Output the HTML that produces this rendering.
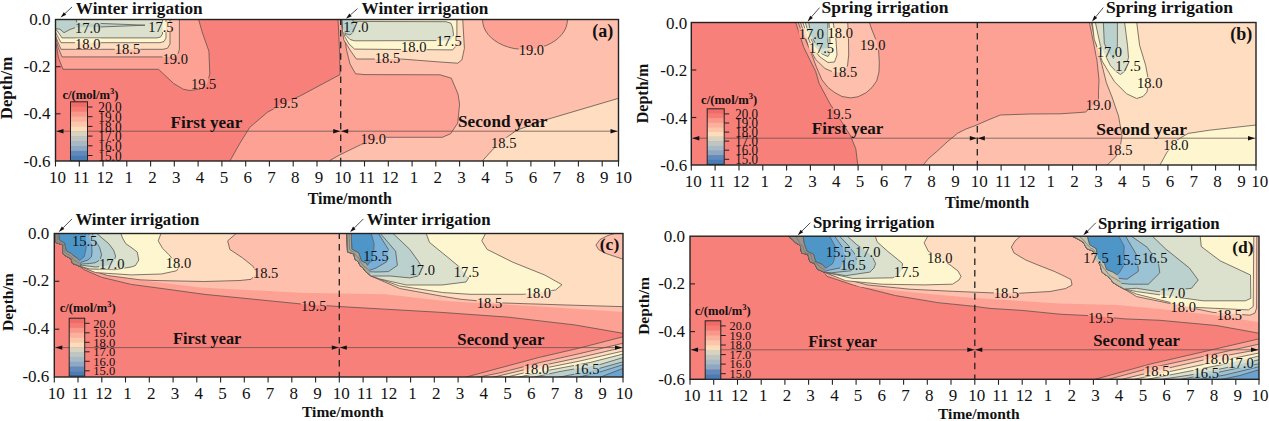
<!DOCTYPE html>
<html><head><meta charset="utf-8"><style>
html,body{margin:0;padding:0;background:#fff;overflow:hidden;}
svg{display:block;font-family:"Liberation Serif",serif;}
</style></head><body>
<svg width="1269" height="421" viewBox="0 0 1269 421" fill="#111">
<clipPath id="cpa"><rect x="55.5" y="19.5" width="563.0" height="141.5"/></clipPath>
<clipPath id="cpb"><rect x="691.3" y="22.5" width="564.7" height="142.5"/></clipPath>
<clipPath id="cpc"><rect x="54.3" y="233.5" width="568.7" height="143.5"/></clipPath>
<clipPath id="cpd"><rect x="690.0" y="236.2" width="569.0" height="143.1"/></clipPath>
<g clip-path="url(#cpa)">
<rect x="55.5" y="19.5" width="563.0" height="141.5" fill="#f8807a"/>
<mask id="mka" maskUnits="userSpaceOnUse" x="0" y="0" width="1269" height="421"><rect x="0" y="0" width="1269" height="421" fill="white"/><rect x="75.1" y="22.4" width="25.5" height="10.4" fill="black"/><rect x="148.2" y="21.7" width="25.5" height="10.4" fill="black"/><rect x="75.1" y="38.6" width="25.5" height="10.4" fill="black"/><rect x="114.8" y="43.9" width="25.5" height="10.4" fill="black"/><rect x="162.5" y="53.6" width="25.5" height="10.4" fill="black"/><rect x="190.9" y="78.3" width="25.5" height="10.4" fill="black"/><rect x="272.6" y="98.2" width="25.5" height="10.4" fill="black"/><rect x="343.2" y="22.1" width="25.5" height="10.4" fill="black"/><rect x="401.0" y="42.1" width="25.5" height="10.4" fill="black"/><rect x="436.3" y="36.2" width="25.5" height="10.4" fill="black"/><rect x="374.8" y="52.9" width="25.5" height="10.4" fill="black"/><rect x="518.7" y="45.1" width="25.5" height="10.4" fill="black"/><rect x="360.5" y="134.0" width="25.5" height="10.4" fill="black"/><rect x="491.1" y="137.7" width="25.5" height="10.4" fill="black"/></mask>
<polygon points="229.3,162.0 240.0,143.0 249.8,127.3 267.2,112.4 285.0,102.5 299.6,96.2 320.0,85.3 340.0,74.6 339.5,50.0 338.0,18.5 619.5,18.5 619.5,162.0" fill="#fca194"/>
<polygon points="229.3,162.0 240.0,143.0 249.8,127.3 267.2,112.4 285.0,102.5 299.6,96.2 320.0,85.3 340.0,74.6 339.5,50.0 338.0,18.5 619.5,18.5 619.5,162.0" fill="none" stroke="#574d4a" stroke-width="0.75" stroke-linejoin="round" mask="url(#mka)"/>
<polygon points="342.3,18.5 344.0,35.0 346.7,50.6 350.0,64.0 355.6,73.8 365.0,74.6 440.0,74.8 451.3,78.2 458.0,94.0 459.6,104.2 457.7,123.1 450.6,133.7 442.3,137.3 385.6,137.3 360.0,145.0 339.5,155.0 330.0,160.4 328.0,162.0 619.5,162.0 619.5,18.5 567.5,19.5 567.1,23.4 566.1,27.3 564.3,31.0 561.8,34.5 558.7,37.8 555.1,40.7 550.9,43.3 546.2,45.5 541.3,47.2 536.0,48.5 530.5,49.2 525.0,49.5 519.5,49.2 514.0,48.5 508.7,47.2 503.8,45.5 499.1,43.3 494.9,40.7 491.3,37.8 488.2,34.5 485.7,31.0 483.9,27.3 482.9,23.4 482.5,19.5 482.9,18.5" fill="#febfac"/>
<polygon points="342.3,18.5 344.0,35.0 346.7,50.6 350.0,64.0 355.6,73.8 365.0,74.6 440.0,74.8 451.3,78.2 458.0,94.0 459.6,104.2 457.7,123.1 450.6,133.7 442.3,137.3 385.6,137.3 360.0,145.0 339.5,155.0 330.0,160.4 328.0,162.0 619.5,162.0 619.5,18.5 567.5,19.5 567.1,23.4 566.1,27.3 564.3,31.0 561.8,34.5 558.7,37.8 555.1,40.7 550.9,43.3 546.2,45.5 541.3,47.2 536.0,48.5 530.5,49.2 525.0,49.5 519.5,49.2 514.0,48.5 508.7,47.2 503.8,45.5 499.1,43.3 494.9,40.7 491.3,37.8 488.2,34.5 485.7,31.0 483.9,27.3 482.9,23.4 482.5,19.5 482.9,18.5" fill="none" stroke="#574d4a" stroke-width="0.75" stroke-linejoin="round" mask="url(#mka)"/>
<polygon points="481.3,162.0 493.1,149.1 505.0,138.5 516.8,130.2 542.8,120.7 619.5,98.0 619.5,162.0" fill="#feddc0"/>
<polygon points="481.3,162.0 493.1,149.1 505.0,138.5 516.8,130.2 542.8,120.7 619.5,98.0 619.5,162.0" fill="none" stroke="#574d4a" stroke-width="0.75" stroke-linejoin="round" mask="url(#mka)"/>
<polygon points="341.0,18.5 342.0,28.0 343.8,39.9 350.0,50.0 356.3,59.0 401.2,59.0 440.0,62.0 457.7,63.2 461.9,59.9 464.4,48.3 462.7,18.5" fill="#feddc0"/>
<polygon points="341.0,18.5 342.0,28.0 343.8,39.9 350.0,50.0 356.3,59.0 401.2,59.0 440.0,62.0 457.7,63.2 461.9,59.9 464.4,48.3 462.7,18.5" fill="none" stroke="#574d4a" stroke-width="0.75" stroke-linejoin="round" mask="url(#mka)"/>
<polygon points="341.5,18.5 342.5,28.0 344.7,36.6 349.0,44.0 354.6,49.1 452.7,49.9 456.9,44.9 456.9,18.5" fill="#fef6cf"/>
<polygon points="341.5,18.5 342.5,28.0 344.7,36.6 349.0,44.0 354.6,49.1 452.7,49.9 456.9,44.9 456.9,18.5" fill="none" stroke="#574d4a" stroke-width="0.75" stroke-linejoin="round" mask="url(#mka)"/>
<polygon points="343.0,21.0 345.5,35.0 350.0,39.5 354.6,40.8 451.0,40.5 453.5,35.0 452.7,28.0 451.0,23.3 446.0,21.7 371.0,21.5" fill="#dce1ce"/>
<polygon points="343.0,21.0 345.5,35.0 350.0,39.5 354.6,40.8 451.0,40.5 453.5,35.0 452.7,28.0 451.0,23.3 446.0,21.7 371.0,21.5" fill="none" stroke="#574d4a" stroke-width="0.75" stroke-linejoin="round" mask="url(#mka)"/>
<polygon points="342.0,18.5 352.0,18.5 355.0,25.0 354.5,31.0 350.0,35.0 345.5,33.5 342.5,27.0" fill="#bad1cd"/>
<polygon points="342.0,18.5 352.0,18.5 355.0,25.0 354.5,31.0 350.0,35.0 345.5,33.5 342.5,27.0" fill="none" stroke="#574d4a" stroke-width="0.75" stroke-linejoin="round" mask="url(#mka)"/>
<polygon points="54.5,18.5 198.4,18.5 202.2,32.2 208.9,51.2 209.8,74.0 207.0,84.0 200.0,89.0 190.0,90.5 183.2,89.2 173.7,83.5 158.5,69.3 63.0,69.3 58.5,58.0 56.2,44.0 54.5,40.0" fill="#fca194"/>
<polygon points="54.5,18.5 198.4,18.5 202.2,32.2 208.9,51.2 209.8,74.0 207.0,84.0 200.0,89.0 190.0,90.5 183.2,89.2 173.7,83.5 158.5,69.3 63.0,69.3 58.5,58.0 56.2,44.0 54.5,40.0" fill="none" stroke="#574d4a" stroke-width="0.75" stroke-linejoin="round" mask="url(#mka)"/>
<polygon points="54.5,18.5 179.4,18.5 179.4,49.3 178.0,54.0 172.0,56.9 62.0,56.9 58.0,47.0 56.0,39.0 54.5,36.0" fill="#febfac"/>
<polygon points="54.5,18.5 179.4,18.5 179.4,49.3 178.0,54.0 172.0,56.9 62.0,56.9 58.0,47.0 56.0,39.0 54.5,36.0" fill="none" stroke="#574d4a" stroke-width="0.75" stroke-linejoin="round" mask="url(#mka)"/>
<polygon points="54.5,18.5 170.0,18.5 170.0,44.0 167.5,48.2 163.0,49.3 61.0,49.3 57.5,41.0 54.5,33.0" fill="#feddc0"/>
<polygon points="54.5,18.5 170.0,18.5 170.0,44.0 167.5,48.2 163.0,49.3 61.0,49.3 57.5,41.0 54.5,33.0" fill="none" stroke="#574d4a" stroke-width="0.75" stroke-linejoin="round" mask="url(#mka)"/>
<polygon points="54.5,18.5 166.0,18.5 166.0,38.0 164.0,41.5 160.0,42.7 61.0,42.7 57.5,36.0 54.5,30.0" fill="#fef6cf"/>
<polygon points="54.5,18.5 166.0,18.5 166.0,38.0 164.0,41.5 160.0,42.7 61.0,42.7 57.5,36.0 54.5,30.0" fill="none" stroke="#574d4a" stroke-width="0.75" stroke-linejoin="round" mask="url(#mka)"/>
<polygon points="54.5,18.5 162.5,18.5 162.5,34.0 160.5,37.0 157.0,37.9 62.0,37.9 58.0,32.0 54.5,28.0" fill="#dce1ce"/>
<polygon points="54.5,18.5 162.5,18.5 162.5,34.0 160.5,37.0 157.0,37.9 62.0,37.9 58.0,32.0 54.5,28.0" fill="none" stroke="#574d4a" stroke-width="0.75" stroke-linejoin="round" mask="url(#mka)"/>
<polygon points="54.5,18.5 76.0,18.5 77.0,23.4 100.0,23.4 145.0,25.2 100.0,27.0 76.0,27.3 70.0,29.5 64.0,32.7 60.0,29.2 54.5,28.5" fill="#bad1cd"/>
<polygon points="54.5,18.5 76.0,18.5 77.0,23.4 100.0,23.4 145.0,25.2 100.0,27.0 76.0,27.3 70.0,29.5 64.0,32.7 60.0,29.2 54.5,28.5" fill="none" stroke="#574d4a" stroke-width="0.75" stroke-linejoin="round" mask="url(#mka)"/>
<text x="87.8" y="32.5" font-size="14.5" font-weight="normal" text-anchor="middle">17.0</text>
<text x="160.9" y="31.8" font-size="14.5" font-weight="normal" text-anchor="middle">17.5</text>
<text x="87.8" y="48.7" font-size="14.5" font-weight="normal" text-anchor="middle">18.0</text>
<text x="127.5" y="54.0" font-size="14.5" font-weight="normal" text-anchor="middle">18.5</text>
<text x="175.2" y="63.8" font-size="14.5" font-weight="normal" text-anchor="middle">19.0</text>
<text x="203.6" y="88.5" font-size="14.5" font-weight="normal" text-anchor="middle">19.5</text>
<text x="285.3" y="108.3" font-size="14.5" font-weight="normal" text-anchor="middle">19.5</text>
<text x="355.9" y="32.3" font-size="14.5" font-weight="normal" text-anchor="middle">17.0</text>
<text x="413.7" y="52.2" font-size="14.5" font-weight="normal" text-anchor="middle">18.0</text>
<text x="449.0" y="46.4" font-size="14.5" font-weight="normal" text-anchor="middle">17.5</text>
<text x="387.5" y="63.0" font-size="14.5" font-weight="normal" text-anchor="middle">18.5</text>
<text x="531.4" y="55.3" font-size="14.5" font-weight="normal" text-anchor="middle">19.0</text>
<text x="373.2" y="144.2" font-size="14.5" font-weight="normal" text-anchor="middle">19.0</text>
<text x="503.8" y="147.8" font-size="14.5" font-weight="normal" text-anchor="middle">18.5</text>
</g>
<g clip-path="url(#cpb)">
<rect x="691.3" y="22.5" width="564.7" height="142.5" fill="#f8807a"/>
<mask id="mkb" maskUnits="userSpaceOnUse" x="0" y="0" width="1269" height="421"><rect x="0" y="0" width="1269" height="421" fill="white"/><rect x="798.7" y="28.4" width="25.5" height="10.4" fill="black"/><rect x="827.5" y="27.9" width="25.5" height="10.4" fill="black"/><rect x="808.7" y="42.9" width="25.5" height="10.4" fill="black"/><rect x="831.8" y="66.8" width="25.5" height="10.4" fill="black"/><rect x="860.0" y="39.4" width="25.5" height="10.4" fill="black"/><rect x="826.0" y="108.3" width="25.5" height="10.4" fill="black"/><rect x="1096.7" y="46.9" width="25.5" height="10.4" fill="black"/><rect x="1115.3" y="61.1" width="25.5" height="10.4" fill="black"/><rect x="1137.0" y="77.3" width="25.5" height="10.4" fill="black"/><rect x="1085.8" y="99.3" width="25.5" height="10.4" fill="black"/><rect x="1107.1" y="144.3" width="25.5" height="10.4" fill="black"/><rect x="1163.2" y="140.2" width="25.5" height="10.4" fill="black"/></mask>
<polygon points="795.4,21.5 803.8,47.5 815.6,71.3 819.2,83.5 829.6,103.1 841.4,121.4 850.5,135.8 855.8,148.8 857.9,166.0 1257.0,166.0 1257.0,21.5" fill="#fca194"/>
<polygon points="795.4,21.5 803.8,47.5 815.6,71.3 819.2,83.5 829.6,103.1 841.4,121.4 850.5,135.8 855.8,148.8 857.9,166.0 1257.0,166.0 1257.0,21.5" fill="none" stroke="#574d4a" stroke-width="0.75" stroke-linejoin="round" mask="url(#mkb)"/>
<polygon points="797.8,21.5 801.4,30.9 806.0,41.0 811.0,52.3 816.0,66.0 821.8,79.6 828.0,87.5 834.9,92.7 842.0,96.5 850.5,97.9 858.0,96.8 866.2,92.7 872.0,87.5 876.7,80.9 879.0,72.0 879.3,62.6 878.6,50.0 876.0,40.0 872.0,30.0 869.0,21.5" fill="#febfac"/>
<polygon points="797.8,21.5 801.4,30.9 806.0,41.0 811.0,52.3 816.0,66.0 821.8,79.6 828.0,87.5 834.9,92.7 842.0,96.5 850.5,97.9 858.0,96.8 866.2,92.7 872.0,87.5 876.7,80.9 879.0,72.0 879.3,62.6 878.6,50.0 876.0,40.0 872.0,30.0 869.0,21.5" fill="none" stroke="#574d4a" stroke-width="0.75" stroke-linejoin="round" mask="url(#mkb)"/>
<polygon points="922.4,166.0 929.0,158.0 936.8,151.5 947.0,142.0 957.7,133.2 966.0,129.0 976.0,125.3 988.0,120.0 1000.4,115.0 1030.0,114.0 1060.0,113.8 1080.0,112.5 1085.6,112.0 1098.5,100.0 1098.5,90.7 1099.0,80.0 1097.0,60.6 1093.0,40.0 1089.2,21.5 1257.0,21.5 1257.0,166.0" fill="#febfac"/>
<polygon points="922.4,166.0 929.0,158.0 936.8,151.5 947.0,142.0 957.7,133.2 966.0,129.0 976.0,125.3 988.0,120.0 1000.4,115.0 1030.0,114.0 1060.0,113.8 1080.0,112.5 1085.6,112.0 1098.5,100.0 1098.5,90.7 1099.0,80.0 1097.0,60.6 1093.0,40.0 1089.2,21.5 1257.0,21.5 1257.0,166.0" fill="none" stroke="#574d4a" stroke-width="0.75" stroke-linejoin="round" mask="url(#mkb)"/>
<polygon points="800.2,21.5 804.0,33.0 808.0,45.0 815.6,59.4 825.0,68.5 835.0,72.8 843.0,71.5 847.5,66.0 848.7,55.0 848.5,40.0 847.7,21.5" fill="#feddc0"/>
<polygon points="800.2,21.5 804.0,33.0 808.0,45.0 815.6,59.4 825.0,68.5 835.0,72.8 843.0,71.5 847.5,66.0 848.7,55.0 848.5,40.0 847.7,21.5" fill="none" stroke="#574d4a" stroke-width="0.75" stroke-linejoin="round" mask="url(#mkb)"/>
<polygon points="1091.2,21.5 1094.0,35.0 1099.3,54.3 1106.4,82.8 1112.0,97.0 1118.5,116.0 1122.0,135.6 1120.0,148.0 1115.6,157.0 1106.0,166.0 1257.0,166.0 1257.0,21.5" fill="#feddc0"/>
<polygon points="1091.2,21.5 1094.0,35.0 1099.3,54.3 1106.4,82.8 1112.0,97.0 1118.5,116.0 1122.0,135.6 1120.0,148.0 1115.6,157.0 1106.0,166.0 1257.0,166.0 1257.0,21.5" fill="none" stroke="#574d4a" stroke-width="0.75" stroke-linejoin="round" mask="url(#mkb)"/>
<polygon points="802.5,21.5 807.0,35.0 812.0,47.0 820.0,57.0 828.0,62.5 834.5,62.0 837.0,55.0 836.0,40.0 833.0,21.5" fill="#fef6cf"/>
<polygon points="802.5,21.5 807.0,35.0 812.0,47.0 820.0,57.0 828.0,62.5 834.5,62.0 837.0,55.0 836.0,40.0 833.0,21.5" fill="none" stroke="#574d4a" stroke-width="0.75" stroke-linejoin="round" mask="url(#mkb)"/>
<polygon points="1092.2,21.5 1094.2,39.2 1102.3,61.4 1114.4,81.6 1126.5,93.7 1136.6,98.5 1143.0,96.5 1147.0,92.0 1148.7,81.6 1145.7,65.5 1139.6,45.3 1136.6,21.5" fill="#fef6cf"/>
<polygon points="1092.2,21.5 1094.2,39.2 1102.3,61.4 1114.4,81.6 1126.5,93.7 1136.6,98.5 1143.0,96.5 1147.0,92.0 1148.7,81.6 1145.7,65.5 1139.6,45.3 1136.6,21.5" fill="none" stroke="#574d4a" stroke-width="0.75" stroke-linejoin="round" mask="url(#mkb)"/>
<polygon points="1159.4,166.0 1166.8,152.6 1177.0,140.0 1188.2,133.4 1209.6,130.2 1257.0,124.9 1257.0,166.0" fill="#fef6cf"/>
<polygon points="1159.4,166.0 1166.8,152.6 1177.0,140.0 1188.2,133.4 1209.6,130.2 1257.0,124.9 1257.0,166.0" fill="none" stroke="#574d4a" stroke-width="0.75" stroke-linejoin="round" mask="url(#mkb)"/>
<polygon points="805.0,21.5 809.0,35.0 815.0,47.0 822.0,54.0 828.0,56.5 830.5,52.0 829.0,21.5" fill="#dce1ce"/>
<polygon points="805.0,21.5 809.0,35.0 815.0,47.0 822.0,54.0 828.0,56.5 830.5,52.0 829.0,21.5" fill="none" stroke="#574d4a" stroke-width="0.75" stroke-linejoin="round" mask="url(#mkb)"/>
<polygon points="1095.2,21.5 1100.3,45.3 1110.4,65.5 1116.0,71.5 1120.5,74.5 1125.0,71.0 1128.5,57.4 1127.5,45.3 1124.5,21.5" fill="#dce1ce"/>
<polygon points="1095.2,21.5 1100.3,45.3 1110.4,65.5 1116.0,71.5 1120.5,74.5 1125.0,71.0 1128.5,57.4 1127.5,45.3 1124.5,21.5" fill="none" stroke="#574d4a" stroke-width="0.75" stroke-linejoin="round" mask="url(#mkb)"/>
<polygon points="808.5,21.5 811.0,35.0 816.0,45.0 822.0,48.7 827.8,48.0 827.8,21.5" fill="#bad1cd"/>
<polygon points="808.5,21.5 811.0,35.0 816.0,45.0 822.0,48.7 827.8,48.0 827.8,21.5" fill="none" stroke="#574d4a" stroke-width="0.75" stroke-linejoin="round" mask="url(#mkb)"/>
<polygon points="1103.3,21.5 1104.3,43.3 1108.0,52.0 1113.4,58.4 1117.0,52.0 1117.4,43.3 1117.4,21.5" fill="#bad1cd"/>
<polygon points="1103.3,21.5 1104.3,43.3 1108.0,52.0 1113.4,58.4 1117.0,52.0 1117.4,43.3 1117.4,21.5" fill="none" stroke="#574d4a" stroke-width="0.75" stroke-linejoin="round" mask="url(#mkb)"/>
<text x="811.4" y="38.5" font-size="14.5" font-weight="normal" text-anchor="middle">17.0</text>
<text x="840.2" y="38.0" font-size="14.5" font-weight="normal" text-anchor="middle">18.0</text>
<text x="821.4" y="53.0" font-size="14.5" font-weight="normal" text-anchor="middle">17.5</text>
<text x="844.5" y="77.0" font-size="14.5" font-weight="normal" text-anchor="middle">18.5</text>
<text x="872.7" y="49.5" font-size="14.5" font-weight="normal" text-anchor="middle">19.0</text>
<text x="838.7" y="118.5" font-size="14.5" font-weight="normal" text-anchor="middle">19.5</text>
<text x="1109.4" y="57.0" font-size="14.5" font-weight="normal" text-anchor="middle">17.0</text>
<text x="1128.0" y="71.3" font-size="14.5" font-weight="normal" text-anchor="middle">17.5</text>
<text x="1149.7" y="87.5" font-size="14.5" font-weight="normal" text-anchor="middle">18.0</text>
<text x="1098.5" y="109.5" font-size="14.5" font-weight="normal" text-anchor="middle">19.0</text>
<text x="1119.8" y="154.5" font-size="14.5" font-weight="normal" text-anchor="middle">18.5</text>
<text x="1175.9" y="150.3" font-size="14.5" font-weight="normal" text-anchor="middle">18.0</text>
</g>
<g clip-path="url(#cpc)">
<rect x="54.3" y="233.5" width="568.7" height="143.5" fill="#f8807a"/>
<mask id="mkc" maskUnits="userSpaceOnUse" x="0" y="0" width="1269" height="421"><rect x="0" y="0" width="1269" height="421" fill="white"/><rect x="71.9" y="235.3" width="25.5" height="10.4" fill="black"/><rect x="99.0" y="258.9" width="25.5" height="10.4" fill="black"/><rect x="165.8" y="258.2" width="25.5" height="10.4" fill="black"/><rect x="252.9" y="268.2" width="25.5" height="10.4" fill="black"/><rect x="301.0" y="300.9" width="25.5" height="10.4" fill="black"/><rect x="363.3" y="250.5" width="25.5" height="10.4" fill="black"/><rect x="409.6" y="264.9" width="25.5" height="10.4" fill="black"/><rect x="453.7" y="266.7" width="25.5" height="10.4" fill="black"/><rect x="525.7" y="288.2" width="25.5" height="10.4" fill="black"/><rect x="476.8" y="297.4" width="25.5" height="10.4" fill="black"/><rect x="523.7" y="364.2" width="25.5" height="10.4" fill="black"/><rect x="574.0" y="364.2" width="25.5" height="10.4" fill="black"/></mask>
<polygon points="55.8,232.5 55.8,242.4 62.5,244.8 62.9,253.8 66.3,256.2 71.0,258.6 72.4,263.3 79.6,266.2 83.8,269.6 101.6,277.3 131.2,284.4 166.9,289.2 204.0,294.3 268.3,300.7 300.4,303.9 339.0,306.5 385.5,309.2 440.0,312.3 507.7,317.1 575.4,325.0 624.0,333.5 624.0,232.5" fill="#fca194"/>
<polygon points="55.8,232.5 55.8,242.4 62.5,244.8 62.9,253.8 66.3,256.2 71.0,258.6 72.4,263.3 79.6,266.2 83.8,269.6 101.6,277.3 131.2,284.4 166.9,289.2 204.0,294.3 268.3,300.7 300.4,303.9 339.0,306.5 385.5,309.2 440.0,312.3 507.7,317.1 575.4,325.0 624.0,333.5 624.0,232.5" fill="none" stroke="#574d4a" stroke-width="0.75" stroke-linejoin="round" mask="url(#mkc)"/>
<polygon points="462.6,378.0 500.0,367.9 539.2,357.4 578.4,348.3 624.0,336.5 624.0,378.0" fill="#fca194"/>
<polygon points="462.6,378.0 500.0,367.9 539.2,357.4 578.4,348.3 624.0,336.5 624.0,378.0" fill="none" stroke="#574d4a" stroke-width="0.75" stroke-linejoin="round" mask="url(#mkc)"/>
<polygon points="55.8,232.5 55.8,242.4 62.5,244.8 62.9,253.8 66.3,256.2 71.0,258.6 72.4,263.3 79.6,266.2 85.0,268.0 101.0,273.5 131.0,279.0 160.0,282.5 200.0,287.6 247.0,290.0 300.0,292.8 385.5,294.2 440.0,300.5 460.0,302.0 540.0,306.5 624.0,312.0 624.0,232.5" fill="#febfac"/>
<polygon points="474.0,378.0 500.0,372.8 540.0,362.5 580.0,353.5 624.0,343.0 624.0,378.0" fill="#febfac"/>
<polygon points="474.0,378.0 500.0,372.8 540.0,362.5 580.0,353.5 624.0,343.0 624.0,378.0" fill="none" stroke="#574d4a" stroke-width="0.75" stroke-linejoin="round" mask="url(#mkc)"/>
<polygon points="490.0,378.0 540.0,366.0 580.0,357.5 624.0,347.2 624.0,378.0" fill="#feddc0"/>
<polygon points="490.0,378.0 540.0,366.0 580.0,357.5 624.0,347.2 624.0,378.0" fill="none" stroke="#574d4a" stroke-width="0.75" stroke-linejoin="round" mask="url(#mkc)"/>
<polygon points="503.0,378.0 540.0,369.0 580.0,361.0 624.0,350.8 624.0,378.0" fill="#fef6cf"/>
<polygon points="503.0,378.0 540.0,369.0 580.0,361.0 624.0,350.8 624.0,378.0" fill="none" stroke="#574d4a" stroke-width="0.75" stroke-linejoin="round" mask="url(#mkc)"/>
<polygon points="515.0,378.0 550.0,370.0 590.0,362.5 624.0,353.8 624.0,378.0" fill="#dce1ce"/>
<polygon points="515.0,378.0 550.0,370.0 590.0,362.5 624.0,353.8 624.0,378.0" fill="none" stroke="#574d4a" stroke-width="0.75" stroke-linejoin="round" mask="url(#mkc)"/>
<polygon points="530.0,378.0 560.0,371.5 600.0,364.5 624.0,357.3 624.0,378.0" fill="#bad1cd"/>
<polygon points="530.0,378.0 560.0,371.5 600.0,364.5 624.0,357.3 624.0,378.0" fill="none" stroke="#574d4a" stroke-width="0.75" stroke-linejoin="round" mask="url(#mkc)"/>
<polygon points="555.0,378.0 590.0,371.0 624.0,361.5 624.0,378.0" fill="#9cc3d3"/>
<polygon points="555.0,378.0 590.0,371.0 624.0,361.5 624.0,378.0" fill="none" stroke="#574d4a" stroke-width="0.75" stroke-linejoin="round" mask="url(#mkc)"/>
<polygon points="575.0,378.0 600.0,372.0 624.0,364.4 624.0,378.0" fill="#88b8d8"/>
<polygon points="575.0,378.0 600.0,372.0 624.0,364.4 624.0,378.0" fill="none" stroke="#574d4a" stroke-width="0.75" stroke-linejoin="round" mask="url(#mkc)"/>
<polygon points="598.0,378.0 624.0,368.0 624.0,378.0" fill="#6aa3d0"/>
<polygon points="598.0,378.0 624.0,368.0 624.0,378.0" fill="none" stroke="#574d4a" stroke-width="0.75" stroke-linejoin="round" mask="url(#mkc)"/>
<polygon points="55.8,232.5 55.8,242.4 62.5,244.8 62.9,253.8 66.3,256.2 71.0,258.6 72.4,263.3 79.6,266.2 107.5,275.5 140.0,279.8 155.0,280.5 204.2,281.5 240.0,280.5 251.2,279.3 256.0,274.0 253.3,266.5 242.7,258.0 229.8,249.4 227.7,240.8 237.3,232.5" fill="#feddc0"/>
<polygon points="55.8,232.5 55.8,242.4 62.5,244.8 62.9,253.8 66.3,256.2 71.0,258.6 72.4,263.3 79.6,266.2 107.5,275.5 140.0,279.8 155.0,280.5 204.2,281.5 240.0,280.5 251.2,279.3 256.0,274.0 253.3,266.5 242.7,258.0 229.8,249.4 227.7,240.8 237.3,232.5" fill="none" stroke="#574d4a" stroke-width="0.75" stroke-linejoin="round" mask="url(#mkc)"/>
<polygon points="55.8,232.5 55.8,242.4 62.5,244.8 62.9,253.8 66.3,256.2 71.0,258.6 72.4,263.3 79.6,266.2 95.6,272.6 131.2,274.9 161.4,274.0 176.4,270.8 178.7,268.0 175.0,262.0 168.9,254.7 162.5,248.3 158.2,240.8 161.4,232.5" fill="#fef6cf"/>
<polygon points="55.8,232.5 55.8,242.4 62.5,244.8 62.9,253.8 66.3,256.2 71.0,258.6 72.4,263.3 79.6,266.2 95.6,272.6 131.2,274.9 161.4,274.0 176.4,270.8 178.7,268.0 175.0,262.0 168.9,254.7 162.5,248.3 158.2,240.8 161.4,232.5" fill="none" stroke="#574d4a" stroke-width="0.75" stroke-linejoin="round" mask="url(#mkc)"/>
<polygon points="55.8,232.5 55.8,242.4 62.5,244.8 62.9,253.8 66.3,256.2 71.0,258.6 72.4,263.3 79.6,266.2 89.7,269.0 115.0,269.7 131.2,267.0 135.5,265.5 138.8,260.0 137.2,252.0 132.0,248.0 125.8,243.7 122.5,238.0 120.6,232.5" fill="#dce1ce"/>
<polygon points="55.8,232.5 55.8,242.4 62.5,244.8 62.9,253.8 66.3,256.2 71.0,258.6 72.4,263.3 79.6,266.2 89.7,269.0 115.0,269.7 131.2,267.0 135.5,265.5 138.8,260.0 137.2,252.0 132.0,248.0 125.8,243.7 122.5,238.0 120.6,232.5" fill="none" stroke="#574d4a" stroke-width="0.75" stroke-linejoin="round" mask="url(#mkc)"/>
<polygon points="55.8,232.5 55.8,242.4 62.5,244.8 62.9,253.8 66.3,256.2 71.0,258.6 72.4,263.3 79.6,266.2 84.0,265.5 95.7,267.0 108.0,265.5 114.0,262.0 115.6,256.0 113.5,250.0 108.8,243.7 102.0,238.0 95.8,232.5" fill="#bad1cd"/>
<polygon points="55.8,232.5 55.8,242.4 62.5,244.8 62.9,253.8 66.3,256.2 71.0,258.6 72.4,263.3 79.6,266.2 84.0,265.5 95.7,267.0 108.0,265.5 114.0,262.0 115.6,256.0 113.5,250.0 108.8,243.7 102.0,238.0 95.8,232.5" fill="none" stroke="#574d4a" stroke-width="0.75" stroke-linejoin="round" mask="url(#mkc)"/>
<polygon points="55.8,232.5 55.8,242.4 62.5,244.8 62.9,253.8 66.3,256.2 71.0,258.6 72.4,263.3 79.6,266.2 82.0,264.0 89.2,263.5 95.0,262.8 100.0,260.0 101.6,254.8 99.7,247.6 95.0,240.0 92.0,232.5" fill="#9cc3d3"/>
<polygon points="55.8,232.5 55.8,242.4 62.5,244.8 62.9,253.8 66.3,256.2 71.0,258.6 72.4,263.3 79.6,266.2 82.0,264.0 89.2,263.5 95.0,262.8 100.0,260.0 101.6,254.8 99.7,247.6 95.0,240.0 92.0,232.5" fill="none" stroke="#574d4a" stroke-width="0.75" stroke-linejoin="round" mask="url(#mkc)"/>
<polygon points="55.8,232.5 55.8,242.4 62.5,244.8 62.9,253.8 66.3,256.2 71.0,258.6 72.4,263.3 79.6,266.2 81.0,262.5 84.0,261.3 88.0,260.0 91.5,256.8 92.0,252.0 91.8,246.3 90.0,240.0 88.5,232.5" fill="#78afd8"/>
<polygon points="55.8,232.5 55.8,242.4 62.5,244.8 62.9,253.8 66.3,256.2 71.0,258.6 72.4,263.3 79.6,266.2 81.0,262.5 84.0,261.3 88.0,260.0 91.5,256.8 92.0,252.0 91.8,246.3 90.0,240.0 88.5,232.5" fill="none" stroke="#574d4a" stroke-width="0.75" stroke-linejoin="round" mask="url(#mkc)"/>
<polygon points="58.7,232.5 59.1,240.0 64.4,242.9 66.3,251.0 71.0,253.3 72.9,255.2 77.7,258.6 79.6,260.5 84.3,256.7 86.2,248.1 86.0,240.0 85.5,232.5" fill="#4e96c8"/>
<polygon points="58.7,232.5 59.1,240.0 64.4,242.9 66.3,251.0 71.0,253.3 72.9,255.2 77.7,258.6 79.6,260.5 84.3,256.7 86.2,248.1 86.0,240.0 85.5,232.5" fill="none" stroke="#574d4a" stroke-width="0.6" stroke-linejoin="round" mask="url(#mkc)"/>
<polygon points="55.8,232.5 55.8,242.4 62.5,244.8 62.9,253.8 66.3,256.2 71.0,258.6 72.4,263.3 79.6,266.2 79.6,260.5 77.7,258.6 72.9,255.2 71.0,253.3 66.3,251.0 64.4,242.9 59.1,240.0 58.7,232.5" fill="#9d9a92" stroke="none"/>
<polyline points="55.8,232.5 55.8,242.4 62.5,244.8 62.9,253.8 66.3,256.2 71.0,258.6 72.4,263.3 79.6,266.2" fill="none" stroke="#6b625c" stroke-width="0.9" stroke-linejoin="miter" mask="url(#mkc)"/>
<polyline points="58.7,232.5 59.1,240.0 64.4,242.9 66.3,251.0 71.0,253.3 72.9,255.2 77.7,258.6 79.6,260.5" fill="none" stroke="#5d5f60" stroke-width="0.9" stroke-linejoin="miter" mask="url(#mkc)"/>
<polyline points="57.2,232.5 57.3,233.6 57.3,234.7 57.3,235.8 57.4,236.9 57.4,238.0 57.4,239.1 57.4,240.3 57.6,241.3 58.6,241.7 59.6,242.2 60.6,242.6 61.6,243.1 62.7,243.5 63.5,244.1 63.6,245.2 63.8,246.3 63.9,247.4 64.0,248.5 64.2,249.6 64.3,250.7 64.5,251.8 65.0,252.6 65.9,253.2 66.8,253.8 67.8,254.3 68.8,254.8 69.8,255.3 70.7,255.9 71.5,256.6 72.1,257.5 72.6,258.4 73.2,259.3 73.9,260.1 74.9,260.6 75.9,261.1 76.8,261.6 77.8,262.2 78.7,262.8 79.6,263.4" fill="none" stroke="#777068" stroke-width="0.8" mask="url(#mkc)"/>
<polygon points="347.0,232.5 347.5,251.9 353.9,254.0 355.0,259.3 358.7,262.0 359.8,265.2 363.0,267.9 365.7,271.6 371.0,276.0 399.7,288.5 442.5,296.3 460.0,299.2 501.0,302.9 566.3,305.0 624.0,306.7 624.0,232.5" fill="#feddc0"/>
<polygon points="347.0,232.5 347.5,251.9 353.9,254.0 355.0,259.3 358.7,262.0 359.8,265.2 363.0,267.9 365.7,271.6 371.0,276.0 399.7,288.5 442.5,296.3 460.0,299.2 501.0,302.9 566.3,305.0 624.0,306.7 624.0,232.5" fill="none" stroke="#574d4a" stroke-width="0.75" stroke-linejoin="round" mask="url(#mkc)"/>
<polygon points="618.0,232.5 608.0,235.5 600.0,239.5 596.0,245.0 598.5,249.5 606.0,253.5 615.0,256.5 624.0,259.5 624.0,232.5" fill="#febfac"/>
<polygon points="618.0,232.5 608.0,235.5 600.0,239.5 596.0,245.0 598.5,249.5 606.0,253.5 615.0,256.5 624.0,259.5 624.0,232.5" fill="none" stroke="#574d4a" stroke-width="0.75" stroke-linejoin="round" mask="url(#mkc)"/>
<polygon points="347.0,232.5 347.5,251.9 353.9,254.0 355.0,259.3 358.7,262.0 359.8,265.2 363.0,267.9 365.7,271.6 371.0,276.0 399.7,286.0 442.5,292.5 470.0,294.3 523.5,294.3 555.6,290.0 562.0,284.7 544.9,275.1 512.8,262.2 487.1,249.4 481.8,240.8 486.0,232.5" fill="#fef6cf"/>
<polygon points="347.0,232.5 347.5,251.9 353.9,254.0 355.0,259.3 358.7,262.0 359.8,265.2 363.0,267.9 365.7,271.6 371.0,276.0 399.7,286.0 442.5,292.5 470.0,294.3 523.5,294.3 555.6,290.0 562.0,284.7 544.9,275.1 512.8,262.2 487.1,249.4 481.8,240.8 486.0,232.5" fill="none" stroke="#574d4a" stroke-width="0.75" stroke-linejoin="round" mask="url(#mkc)"/>
<polygon points="347.0,232.5 347.5,251.9 353.9,254.0 355.0,259.3 358.7,262.0 359.8,265.2 363.0,267.9 365.7,271.6 371.0,276.0 380.0,279.0 406.3,285.0 441.9,285.0 466.0,282.0 468.6,278.0 459.7,267.2 449.0,258.3 429.4,242.3 425.9,232.5" fill="#dce1ce"/>
<polygon points="347.0,232.5 347.5,251.9 353.9,254.0 355.0,259.3 358.7,262.0 359.8,265.2 363.0,267.9 365.7,271.6 371.0,276.0 380.0,279.0 406.3,285.0 441.9,285.0 466.0,282.0 468.6,278.0 459.7,267.2 449.0,258.3 429.4,242.3 425.9,232.5" fill="none" stroke="#574d4a" stroke-width="0.75" stroke-linejoin="round" mask="url(#mkc)"/>
<polygon points="347.0,232.5 347.5,251.9 353.9,254.0 355.0,259.3 358.7,262.0 359.8,265.2 363.0,267.9 365.7,271.6 371.0,276.0 390.0,276.0 409.8,277.9 418.0,276.0 422.0,268.0 418.7,261.8 409.8,249.4 392.0,232.5" fill="#bad1cd"/>
<polygon points="347.0,232.5 347.5,251.9 353.9,254.0 355.0,259.3 358.7,262.0 359.8,265.2 363.0,267.9 365.7,271.6 371.0,276.0 390.0,276.0 409.8,277.9 418.0,276.0 422.0,268.0 418.7,261.8 409.8,249.4 392.0,232.5" fill="none" stroke="#574d4a" stroke-width="0.75" stroke-linejoin="round" mask="url(#mkc)"/>
<polygon points="347.0,232.5 347.5,251.9 353.9,254.0 355.0,259.3 358.7,262.0 359.8,265.2 363.0,267.9 365.7,271.6 376.0,272.0 388.4,271.6 397.4,265.4 395.6,251.2 379.5,232.5" fill="#9cc3d3"/>
<polygon points="347.0,232.5 347.5,251.9 353.9,254.0 355.0,259.3 358.7,262.0 359.8,265.2 363.0,267.9 365.7,271.6 376.0,272.0 388.4,271.6 397.4,265.4 395.6,251.2 379.5,232.5" fill="none" stroke="#574d4a" stroke-width="0.75" stroke-linejoin="round" mask="url(#mkc)"/>
<polygon points="347.0,232.5 347.5,251.9 353.9,254.0 355.0,259.3 358.7,262.0 359.8,265.2 363.0,267.9 365.7,271.6 376.0,268.1 386.7,261.8 388.4,249.4 377.8,232.5" fill="#78afd8"/>
<polygon points="347.0,232.5 347.5,251.9 353.9,254.0 355.0,259.3 358.7,262.0 359.8,265.2 363.0,267.9 365.7,271.6 376.0,268.1 386.7,261.8 388.4,249.4 377.8,232.5" fill="none" stroke="#574d4a" stroke-width="0.75" stroke-linejoin="round" mask="url(#mkc)"/>
<polygon points="351.2,232.5 351.8,249.2 358.7,252.9 361.4,260.9 365.7,263.1 367.8,265.2 368.9,263.1 373.2,259.9 374.2,243.8 371.0,232.5" fill="#4e96c8"/>
<polygon points="351.2,232.5 351.8,249.2 358.7,252.9 361.4,260.9 365.7,263.1 367.8,265.2 368.9,263.1 373.2,259.9 374.2,243.8 371.0,232.5" fill="none" stroke="#574d4a" stroke-width="0.6" stroke-linejoin="round" mask="url(#mkc)"/>
<polygon points="347.0,232.5 347.5,251.9 353.9,254.0 355.0,259.3 358.7,262.0 359.8,265.2 363.0,267.9 365.7,271.6 371.0,276.0 367.8,265.2 365.7,263.1 361.4,260.9 358.7,252.9 351.8,249.2 351.2,232.5" fill="#a4a79c" stroke="none"/>
<polyline points="347.0,232.5 347.5,251.9 353.9,254.0 355.0,259.3 358.7,262.0 359.8,265.2 363.0,267.9 365.7,271.6 371.0,276.0" fill="none" stroke="#6b625c" stroke-width="0.9" stroke-linejoin="miter" mask="url(#mkc)"/>
<polyline points="351.2,232.5 351.8,249.2 358.7,252.9 361.4,260.9 365.7,263.1 367.8,265.2" fill="none" stroke="#5d5f60" stroke-width="0.9" stroke-linejoin="miter" mask="url(#mkc)"/>
<polyline points="349.1,232.5 349.1,233.7 349.2,235.0 349.2,236.2 349.2,237.4 349.3,238.6 349.3,239.9 349.4,241.1 349.4,242.3 349.4,243.6 349.5,244.8 349.5,246.0 349.5,247.3 349.6,248.5 349.8,249.6 350.5,250.3 351.2,251.1 352.3,251.5 353.5,252.0 354.3,252.7 354.9,253.6 355.5,254.6 356.1,255.5 357.0,256.3 357.9,257.1 358.6,258.0 359.2,259.0 359.6,260.2 360.0,261.3 360.8,262.3 361.5,263.2 362.2,264.2 362.9,265.1 363.8,266.0 364.6,266.8 365.6,267.5 366.6,268.2 367.6,269.0 368.5,269.8 369.4,270.6" fill="none" stroke="#777068" stroke-width="0.8" mask="url(#mkc)"/>
<text x="84.6" y="245.5" font-size="14.5" font-weight="normal" text-anchor="middle">15.5</text>
<text x="111.7" y="269.0" font-size="14.5" font-weight="normal" text-anchor="middle">17.0</text>
<text x="178.5" y="268.3" font-size="14.5" font-weight="normal" text-anchor="middle">18.0</text>
<text x="265.6" y="278.3" font-size="14.5" font-weight="normal" text-anchor="middle">18.5</text>
<text x="313.7" y="311.0" font-size="14.5" font-weight="normal" text-anchor="middle">19.5</text>
<text x="376.0" y="260.7" font-size="14.5" font-weight="normal" text-anchor="middle">15.5</text>
<text x="422.3" y="275.0" font-size="14.5" font-weight="normal" text-anchor="middle">17.0</text>
<text x="466.4" y="276.8" font-size="14.5" font-weight="normal" text-anchor="middle">17.5</text>
<text x="538.4" y="298.3" font-size="14.5" font-weight="normal" text-anchor="middle">18.0</text>
<text x="489.5" y="307.5" font-size="14.5" font-weight="normal" text-anchor="middle">18.5</text>
<text x="536.4" y="374.3" font-size="14.5" font-weight="normal" text-anchor="middle">18.0</text>
<text x="586.7" y="374.4" font-size="14.5" font-weight="normal" text-anchor="middle">16.5</text>
</g>
<g clip-path="url(#cpd)">
<rect x="690.0" y="236.2" width="569.0" height="143.1" fill="#f8807a"/>
<mask id="mkd" maskUnits="userSpaceOnUse" x="0" y="0" width="1269" height="421"><rect x="0" y="0" width="1269" height="421" fill="white"/><rect x="825.7" y="247.2" width="25.5" height="10.4" fill="black"/><rect x="855.0" y="247.2" width="25.5" height="10.4" fill="black"/><rect x="840.3" y="259.9" width="25.5" height="10.4" fill="black"/><rect x="893.8" y="266.5" width="25.5" height="10.4" fill="black"/><rect x="927.0" y="252.8" width="25.5" height="10.4" fill="black"/><rect x="993.7" y="287.9" width="25.5" height="10.4" fill="black"/><rect x="1088.0" y="312.6" width="25.5" height="10.4" fill="black"/><rect x="1083.3" y="252.8" width="25.5" height="10.4" fill="black"/><rect x="1115.8" y="255.2" width="25.5" height="10.4" fill="black"/><rect x="1142.0" y="253.2" width="25.5" height="10.4" fill="black"/><rect x="1159.9" y="287.4" width="25.5" height="10.4" fill="black"/><rect x="1170.5" y="301.5" width="25.5" height="10.4" fill="black"/><rect x="1216.7" y="309.9" width="25.5" height="10.4" fill="black"/><rect x="1144.1" y="365.9" width="25.5" height="10.4" fill="black"/><rect x="1193.5" y="367.9" width="25.5" height="10.4" fill="black"/><rect x="1203.6" y="354.2" width="25.5" height="10.4" fill="black"/><rect x="1228.3" y="357.9" width="25.5" height="10.4" fill="black"/></mask>
<polygon points="787.0,235.2 791.7,238.8 795.5,242.6 800.3,245.4 801.7,253.0 807.9,254.4 809.8,261.6 814.5,263.5 817.4,269.2 824.0,272.0 827.1,276.4 852.8,284.9 895.5,295.6 938.3,302.7 973.9,306.3 990.0,308.4 1022.0,310.4 1060.0,314.2 1088.5,315.6 1125.0,318.9 1160.0,320.3 1217.0,325.6 1260.0,333.4 1260.0,235.2" fill="#fca194"/>
<polygon points="787.0,235.2 791.7,238.8 795.5,242.6 800.3,245.4 801.7,253.0 807.9,254.4 809.8,261.6 814.5,263.5 817.4,269.2 824.0,272.0 827.1,276.4 852.8,284.9 895.5,295.6 938.3,302.7 973.9,306.3 990.0,308.4 1022.0,310.4 1060.0,314.2 1088.5,315.6 1125.0,318.9 1160.0,320.3 1217.0,325.6 1260.0,333.4 1260.0,235.2" fill="none" stroke="#574d4a" stroke-width="0.75" stroke-linejoin="round" mask="url(#mkd)"/>
<polygon points="1091.5,380.3 1150.0,364.1 1209.4,350.4 1260.0,338.6 1260.0,380.3" fill="#fca194"/>
<polygon points="1091.5,380.3 1150.0,364.1 1209.4,350.4 1260.0,338.6 1260.0,380.3" fill="none" stroke="#574d4a" stroke-width="0.75" stroke-linejoin="round" mask="url(#mkd)"/>
<polygon points="787.0,235.2 791.7,238.8 795.5,242.6 800.3,245.4 801.7,253.0 807.9,254.4 809.8,261.6 814.5,263.5 817.4,269.2 824.0,272.0 826.0,274.0 860.0,286.7 924.0,293.5 974.0,298.0 990.0,299.0 1060.0,303.5 1117.0,305.0 1160.0,309.0 1217.0,315.5 1260.0,322.5 1260.0,235.2" fill="#febfac"/>
<polygon points="1105.0,380.3 1150.0,368.0 1210.0,355.0 1260.0,343.9 1260.0,380.3" fill="#febfac"/>
<polygon points="1105.0,380.3 1150.0,368.0 1210.0,355.0 1260.0,343.9 1260.0,380.3" fill="none" stroke="#574d4a" stroke-width="0.75" stroke-linejoin="round" mask="url(#mkd)"/>
<polygon points="787.0,235.2 791.7,238.8 795.5,242.6 800.3,245.4 801.7,253.0 807.9,254.4 809.8,261.6 814.5,263.5 817.4,269.2 824.0,272.0 831.4,275.0 867.0,284.9 909.8,289.2 952.5,291.3 990.0,292.8 1018.2,293.3 1050.0,291.5 1065.7,288.5 1072.0,285.0 1071.0,279.5 1062.0,275.0 1054.3,271.4 1038.0,265.0 1025.8,260.0 1014.0,253.0 1011.4,247.0 1015.0,241.0 1021.5,235.2" fill="#feddc0"/>
<polygon points="787.0,235.2 791.7,238.8 795.5,242.6 800.3,245.4 801.7,253.0 807.9,254.4 809.8,261.6 814.5,263.5 817.4,269.2 824.0,272.0 831.4,275.0 867.0,284.9 909.8,289.2 952.5,291.3 990.0,292.8 1018.2,293.3 1050.0,291.5 1065.7,288.5 1072.0,285.0 1071.0,279.5 1062.0,275.0 1054.3,271.4 1038.0,265.0 1025.8,260.0 1014.0,253.0 1011.4,247.0 1015.0,241.0 1021.5,235.2" fill="none" stroke="#574d4a" stroke-width="0.75" stroke-linejoin="round" mask="url(#mkd)"/>
<polygon points="1118.0,380.3 1160.0,370.0 1210.0,358.5 1260.0,349.3 1260.0,380.3" fill="#feddc0"/>
<polygon points="1118.0,380.3 1160.0,370.0 1210.0,358.5 1260.0,349.3 1260.0,380.3" fill="none" stroke="#574d4a" stroke-width="0.75" stroke-linejoin="round" mask="url(#mkd)"/>
<polygon points="787.0,235.2 791.7,238.8 795.5,242.6 800.3,245.4 801.7,253.0 807.9,254.4 809.8,261.6 814.5,263.5 817.4,269.2 824.0,272.0 845.6,280.7 881.3,284.2 924.0,284.9 952.5,284.2 959.0,280.0 961.0,276.4 958.0,271.0 951.1,265.7 940.0,258.0 928.4,251.4 924.1,242.8 928.4,235.2" fill="#fef6cf"/>
<polygon points="787.0,235.2 791.7,238.8 795.5,242.6 800.3,245.4 801.7,253.0 807.9,254.4 809.8,261.6 814.5,263.5 817.4,269.2 824.0,272.0 845.6,280.7 881.3,284.2 924.0,284.9 952.5,284.2 959.0,280.0 961.0,276.4 958.0,271.0 951.1,265.7 940.0,258.0 928.4,251.4 924.1,242.8 928.4,235.2" fill="none" stroke="#574d4a" stroke-width="0.75" stroke-linejoin="round" mask="url(#mkd)"/>
<polygon points="787.0,235.2 791.7,238.8 795.5,242.6 800.3,245.4 801.7,253.0 807.9,254.4 809.8,261.6 814.5,263.5 817.4,269.2 824.0,272.0 852.8,278.5 892.7,277.8 899.0,274.0 901.7,270.0 902.6,263.6 896.0,258.0 887.8,251.4 877.1,241.8 875.0,235.2" fill="#dce1ce"/>
<polygon points="787.0,235.2 791.7,238.8 795.5,242.6 800.3,245.4 801.7,253.0 807.9,254.4 809.8,261.6 814.5,263.5 817.4,269.2 824.0,272.0 852.8,278.5 892.7,277.8 899.0,274.0 901.7,270.0 902.6,263.6 896.0,258.0 887.8,251.4 877.1,241.8 875.0,235.2" fill="none" stroke="#574d4a" stroke-width="0.75" stroke-linejoin="round" mask="url(#mkd)"/>
<polygon points="787.0,235.2 791.7,238.8 795.5,242.6 800.3,245.4 801.7,253.0 807.9,254.4 809.8,261.6 814.5,263.5 817.4,269.2 824.0,272.0 845.6,275.7 869.9,272.1 874.0,268.0 875.6,263.6 871.9,255.7 856.3,244.3 846.3,235.2" fill="#bad1cd"/>
<polygon points="787.0,235.2 791.7,238.8 795.5,242.6 800.3,245.4 801.7,253.0 807.9,254.4 809.8,261.6 814.5,263.5 817.4,269.2 824.0,272.0 845.6,275.7 869.9,272.1 874.0,268.0 875.6,263.6 871.9,255.7 856.3,244.3 846.3,235.2" fill="none" stroke="#574d4a" stroke-width="0.75" stroke-linejoin="round" mask="url(#mkd)"/>
<polygon points="787.0,235.2 791.7,238.8 795.5,242.6 800.3,245.4 801.7,253.0 807.9,254.4 809.8,261.6 814.5,263.5 817.4,269.2 824.0,272.0 831.4,272.8 851.3,270.7 857.0,263.6 855.6,255.0 848.0,245.0 838.5,235.2" fill="#9cc3d3"/>
<polygon points="787.0,235.2 791.7,238.8 795.5,242.6 800.3,245.4 801.7,253.0 807.9,254.4 809.8,261.6 814.5,263.5 817.4,269.2 824.0,272.0 831.4,272.8 851.3,270.7 857.0,263.6 855.6,255.0 848.0,245.0 838.5,235.2" fill="none" stroke="#574d4a" stroke-width="0.75" stroke-linejoin="round" mask="url(#mkd)"/>
<polygon points="787.0,235.2 791.7,238.8 795.5,242.6 800.3,245.4 801.7,253.0 807.9,254.4 809.8,261.6 814.5,263.5 817.4,269.2 824.0,272.0 827.0,270.5 840.0,268.0 845.0,260.0 843.0,248.0 834.0,235.2" fill="#78afd8"/>
<polygon points="787.0,235.2 791.7,238.8 795.5,242.6 800.3,245.4 801.7,253.0 807.9,254.4 809.8,261.6 814.5,263.5 817.4,269.2 824.0,272.0 827.0,270.5 840.0,268.0 845.0,260.0 843.0,248.0 834.0,235.2" fill="none" stroke="#574d4a" stroke-width="0.75" stroke-linejoin="round" mask="url(#mkd)"/>
<polygon points="803.1,235.2 804.0,243.0 806.9,251.1 813.6,254.4 815.5,261.6 822.1,264.4 825.9,268.2 832.8,263.6 835.7,255.0 836.3,248.5 829.2,235.2" fill="#4e96c8"/>
<polygon points="803.1,235.2 804.0,243.0 806.9,251.1 813.6,254.4 815.5,261.6 822.1,264.4 825.9,268.2 832.8,263.6 835.7,255.0 836.3,248.5 829.2,235.2" fill="none" stroke="#574d4a" stroke-width="0.6" stroke-linejoin="round" mask="url(#mkd)"/>
<polygon points="787.0,235.2 791.7,238.8 795.5,242.6 800.3,245.4 801.7,253.0 807.9,254.4 809.8,261.6 814.5,263.5 817.4,269.2 824.0,272.0 825.9,268.2 822.1,264.4 815.5,261.6 813.6,254.4 806.9,251.1 804.0,243.0 803.1,235.2" fill="#9c948c" stroke="none"/>
<polyline points="787.0,235.2 791.7,238.8 795.5,242.6 800.3,245.4 801.7,253.0 807.9,254.4 809.8,261.6 814.5,263.5 817.4,269.2 824.0,272.0" fill="none" stroke="#6b625c" stroke-width="0.9" stroke-linejoin="miter" mask="url(#mkd)"/>
<polyline points="803.1,235.2 804.0,243.0 806.9,251.1 813.6,254.4 815.5,261.6 822.1,264.4 825.9,268.2" fill="none" stroke="#5d5f60" stroke-width="0.9" stroke-linejoin="miter" mask="url(#mkd)"/>
<polyline points="795.0,235.2 795.7,236.2 796.3,237.2 797.0,238.2 797.6,239.2 798.2,240.3 798.8,241.4 799.4,242.4 800.1,243.4 800.9,244.3 801.8,245.2 802.6,246.1 803.2,247.2 803.5,248.5 803.8,249.7 804.3,250.8 804.9,251.8 805.6,252.7 806.9,253.1 808.1,253.5 809.3,253.9 810.5,254.3 811.0,255.4 811.3,256.7 811.7,257.9 812.0,259.2 812.3,260.4 813.0,261.3 813.9,262.1 815.1,262.6 816.2,263.2 817.1,264.1 817.9,264.9 818.8,265.8 819.6,266.7 820.7,267.4 821.7,268.0 822.8,268.7 823.9,269.4 825.0,270.1" fill="none" stroke="#777068" stroke-width="0.8" mask="url(#mkd)"/>
<polygon points="1070.0,235.2 1076.5,238.2 1083.1,242.1 1087.0,248.7 1093.5,251.3 1094.8,259.1 1100.0,264.4 1102.0,272.2 1109.2,277.4 1113.1,282.6 1119.6,286.6 1124.2,289.0 1136.6,296.6 1213.1,312.4 1250.0,315.2 1255.0,313.0 1256.6,308.0 1256.8,235.2" fill="#feddc0"/>
<polygon points="1070.0,235.2 1076.5,238.2 1083.1,242.1 1087.0,248.7 1093.5,251.3 1094.8,259.1 1100.0,264.4 1102.0,272.2 1109.2,277.4 1113.1,282.6 1119.6,286.6 1124.2,289.0 1136.6,296.6 1213.1,312.4 1250.0,315.2 1255.0,313.0 1256.6,308.0 1256.8,235.2" fill="none" stroke="#574d4a" stroke-width="0.75" stroke-linejoin="round" mask="url(#mkd)"/>
<polygon points="1070.0,235.2 1076.5,238.2 1083.1,242.1 1087.0,248.7 1093.5,251.3 1094.8,259.1 1100.0,264.4 1102.0,272.2 1109.2,277.4 1113.1,282.6 1119.6,286.6 1124.2,289.0 1136.6,294.1 1169.9,302.4 1194.8,307.4 1248.5,309.9 1253.2,306.5 1253.8,235.2" fill="#fef6cf"/>
<polygon points="1070.0,235.2 1076.5,238.2 1083.1,242.1 1087.0,248.7 1093.5,251.3 1094.8,259.1 1100.0,264.4 1102.0,272.2 1109.2,277.4 1113.1,282.6 1119.6,286.6 1124.2,289.0 1136.6,294.1 1169.9,302.4 1194.8,307.4 1248.5,309.9 1253.2,306.5 1253.8,235.2" fill="none" stroke="#574d4a" stroke-width="0.75" stroke-linejoin="round" mask="url(#mkd)"/>
<polygon points="1070.0,235.2 1076.5,238.2 1083.1,242.1 1087.0,248.7 1093.5,251.3 1094.8,259.1 1100.0,264.4 1102.0,272.2 1109.2,277.4 1113.1,282.6 1119.6,286.6 1124.2,289.0 1136.6,291.6 1203.1,300.8 1245.5,300.8 1250.8,298.3 1250.5,275.0 1220.3,260.9 1201.3,246.6 1200.1,235.2" fill="#dce1ce"/>
<polygon points="1070.0,235.2 1076.5,238.2 1083.1,242.1 1087.0,248.7 1093.5,251.3 1094.8,259.1 1100.0,264.4 1102.0,272.2 1109.2,277.4 1113.1,282.6 1119.6,286.6 1124.2,289.0 1136.6,291.6 1203.1,300.8 1245.5,300.8 1250.8,298.3 1250.5,275.0 1220.3,260.9 1201.3,246.6 1200.1,235.2" fill="none" stroke="#574d4a" stroke-width="0.75" stroke-linejoin="round" mask="url(#mkd)"/>
<polygon points="1070.0,235.2 1076.5,238.2 1083.1,242.1 1087.0,248.7 1093.5,251.3 1094.8,259.1 1100.0,264.4 1102.0,272.2 1109.2,277.4 1113.1,282.6 1119.6,286.6 1124.2,289.0 1136.6,288.3 1158.2,291.6 1191.5,288.3 1198.2,280.0 1189.4,268.0 1165.7,249.0 1151.4,235.2" fill="#bad1cd"/>
<polygon points="1070.0,235.2 1076.5,238.2 1083.1,242.1 1087.0,248.7 1093.5,251.3 1094.8,259.1 1100.0,264.4 1102.0,272.2 1109.2,277.4 1113.1,282.6 1119.6,286.6 1124.2,289.0 1136.6,288.3 1158.2,291.6 1191.5,288.3 1198.2,280.0 1189.4,268.0 1165.7,249.0 1151.4,235.2" fill="none" stroke="#574d4a" stroke-width="0.75" stroke-linejoin="round" mask="url(#mkd)"/>
<polygon points="1070.0,235.2 1076.5,238.2 1083.1,242.1 1087.0,248.7 1093.5,251.3 1094.8,259.1 1100.0,264.4 1102.0,272.2 1109.2,277.4 1113.1,282.6 1129.9,284.2 1148.4,284.2 1159.8,272.8 1158.4,262.8 1147.0,247.1 1129.9,235.2" fill="#9cc3d3"/>
<polygon points="1070.0,235.2 1076.5,238.2 1083.1,242.1 1087.0,248.7 1093.5,251.3 1094.8,259.1 1100.0,264.4 1102.0,272.2 1109.2,277.4 1113.1,282.6 1129.9,284.2 1148.4,284.2 1159.8,272.8 1158.4,262.8 1147.0,247.1 1129.9,235.2" fill="none" stroke="#574d4a" stroke-width="0.75" stroke-linejoin="round" mask="url(#mkd)"/>
<polygon points="1070.0,235.2 1076.5,238.2 1083.1,242.1 1087.0,248.7 1093.5,251.3 1094.8,259.1 1100.0,264.4 1102.0,272.2 1109.2,277.4 1127.0,279.2 1138.4,271.3 1137.0,255.7 1125.0,235.2" fill="#78afd8"/>
<polygon points="1070.0,235.2 1076.5,238.2 1083.1,242.1 1087.0,248.7 1093.5,251.3 1094.8,259.1 1100.0,264.4 1102.0,272.2 1109.2,277.4 1127.0,279.2 1138.4,271.3 1137.0,255.7 1125.0,235.2" fill="none" stroke="#574d4a" stroke-width="0.75" stroke-linejoin="round" mask="url(#mkd)"/>
<polygon points="1087.0,235.2 1089.6,244.8 1096.1,248.7 1098.1,259.1 1104.0,262.4 1106.6,269.6 1113.1,272.2 1117.0,274.8 1119.6,272.2 1123.6,265.7 1124.2,246.1 1118.3,235.2" fill="#4e96c8"/>
<polygon points="1087.0,235.2 1089.6,244.8 1096.1,248.7 1098.1,259.1 1104.0,262.4 1106.6,269.6 1113.1,272.2 1117.0,274.8 1119.6,272.2 1123.6,265.7 1124.2,246.1 1118.3,235.2" fill="none" stroke="#574d4a" stroke-width="0.6" stroke-linejoin="round" mask="url(#mkd)"/>
<polygon points="1070.0,235.2 1076.5,238.2 1083.1,242.1 1087.0,248.7 1093.5,251.3 1094.8,259.1 1100.0,264.4 1102.0,272.2 1109.2,277.4 1113.1,282.6 1119.6,286.6 1124.2,289.0 1117.0,274.8 1113.1,272.2 1106.6,269.6 1104.0,262.4 1098.1,259.1 1096.1,248.7 1089.6,244.8 1087.0,235.2" fill="#c4c2ac" stroke="none"/>
<polyline points="1070.0,235.2 1076.5,238.2 1083.1,242.1 1087.0,248.7 1093.5,251.3 1094.8,259.1 1100.0,264.4 1102.0,272.2 1109.2,277.4 1113.1,282.6 1119.6,286.6 1124.2,289.0" fill="none" stroke="#6b625c" stroke-width="0.9" stroke-linejoin="miter" mask="url(#mkd)"/>
<polyline points="1087.0,235.2 1089.6,244.8 1096.1,248.7 1098.1,259.1 1104.0,262.4 1106.6,269.6 1113.1,272.2 1117.0,274.8" fill="none" stroke="#5d5f60" stroke-width="0.9" stroke-linejoin="miter" mask="url(#mkd)"/>
<polyline points="1078.5,235.2 1079.6,236.3 1080.8,237.4 1081.9,238.5 1083.0,239.7 1084.1,240.9 1085.1,242.1 1086.2,243.3 1087.3,244.5 1088.4,245.8 1089.6,247.0 1090.8,248.2 1092.3,248.9 1093.7,249.8 1094.8,250.9 1095.3,252.5 1095.6,254.2 1095.9,255.9 1096.2,257.6 1097.0,259.0 1097.9,260.4 1099.1,261.6 1100.2,262.8 1101.1,264.1 1102.0,265.5 1102.8,266.8 1103.7,268.2 1104.8,269.5 1105.8,270.8 1106.9,272.0 1107.9,273.4 1109.0,274.7 1110.2,275.8 1111.6,276.8 1113.1,277.6 1114.6,278.4 1116.1,279.3 1117.6,280.2 1119.1,281.0 1120.6,281.9" fill="none" stroke="#777068" stroke-width="0.8" mask="url(#mkd)"/>
<polygon points="1130.0,380.3 1170.0,371.5 1215.0,362.0 1260.0,352.8 1260.0,380.3" fill="#fef6cf"/>
<polygon points="1130.0,380.3 1170.0,371.5 1215.0,362.0 1260.0,352.8 1260.0,380.3" fill="none" stroke="#574d4a" stroke-width="0.75" stroke-linejoin="round" mask="url(#mkd)"/>
<polygon points="1142.0,380.3 1180.0,373.0 1220.0,365.0 1260.0,355.8 1260.0,380.3" fill="#dce1ce"/>
<polygon points="1142.0,380.3 1180.0,373.0 1220.0,365.0 1260.0,355.8 1260.0,380.3" fill="none" stroke="#574d4a" stroke-width="0.75" stroke-linejoin="round" mask="url(#mkd)"/>
<polygon points="1155.0,380.3 1190.0,375.0 1225.0,368.0 1260.0,359.5 1260.0,380.3" fill="#bad1cd"/>
<polygon points="1155.0,380.3 1190.0,375.0 1225.0,368.0 1260.0,359.5 1260.0,380.3" fill="none" stroke="#574d4a" stroke-width="0.75" stroke-linejoin="round" mask="url(#mkd)"/>
<polygon points="1175.0,380.3 1210.0,374.0 1260.0,363.5 1260.0,380.3" fill="#9cc3d3"/>
<polygon points="1175.0,380.3 1210.0,374.0 1260.0,363.5 1260.0,380.3" fill="none" stroke="#574d4a" stroke-width="0.75" stroke-linejoin="round" mask="url(#mkd)"/>
<polygon points="1195.0,380.3 1225.0,375.0 1260.0,366.5 1260.0,380.3" fill="#88b8d8"/>
<polygon points="1195.0,380.3 1225.0,375.0 1260.0,366.5 1260.0,380.3" fill="none" stroke="#574d4a" stroke-width="0.75" stroke-linejoin="round" mask="url(#mkd)"/>
<polygon points="1216.5,380.3 1240.0,375.5 1260.0,369.4 1260.0,380.3" fill="#6aa3d0"/>
<polygon points="1216.5,380.3 1240.0,375.5 1260.0,369.4 1260.0,380.3" fill="none" stroke="#574d4a" stroke-width="0.75" stroke-linejoin="round" mask="url(#mkd)"/>
<text x="838.4" y="257.4" font-size="14.5" font-weight="normal" text-anchor="middle">15.5</text>
<text x="867.7" y="257.4" font-size="14.5" font-weight="normal" text-anchor="middle">17.0</text>
<text x="853.0" y="270.0" font-size="14.5" font-weight="normal" text-anchor="middle">16.5</text>
<text x="906.5" y="276.6" font-size="14.5" font-weight="normal" text-anchor="middle">17.5</text>
<text x="939.7" y="263.0" font-size="14.5" font-weight="normal" text-anchor="middle">18.0</text>
<text x="1006.4" y="298.0" font-size="14.5" font-weight="normal" text-anchor="middle">18.5</text>
<text x="1100.7" y="322.7" font-size="14.5" font-weight="normal" text-anchor="middle">19.5</text>
<text x="1096.0" y="263.0" font-size="14.5" font-weight="normal" text-anchor="middle">17.5</text>
<text x="1128.5" y="265.3" font-size="14.5" font-weight="normal" text-anchor="middle">15.5</text>
<text x="1154.7" y="263.4" font-size="14.5" font-weight="normal" text-anchor="middle">16.5</text>
<text x="1172.6" y="297.5" font-size="14.5" font-weight="normal" text-anchor="middle">17.0</text>
<text x="1183.2" y="311.6" font-size="14.5" font-weight="normal" text-anchor="middle">18.0</text>
<text x="1229.4" y="320.0" font-size="14.5" font-weight="normal" text-anchor="middle">18.5</text>
<text x="1156.8" y="376.0" font-size="14.5" font-weight="normal" text-anchor="middle">18.5</text>
<text x="1206.2" y="378.0" font-size="14.5" font-weight="normal" text-anchor="middle">16.5</text>
<text x="1216.3" y="364.4" font-size="14.5" font-weight="normal" text-anchor="middle">18.0</text>
<text x="1241.0" y="368.0" font-size="14.5" font-weight="normal" text-anchor="middle">17.0</text>
</g>
<line x1="55.5" y1="161.0" x2="55.5" y2="166.5" stroke="#222" stroke-width="1.1"/>
<text x="57.5" y="183.0" font-size="17" font-weight="normal" text-anchor="middle">10</text>
<line x1="79.3" y1="161.0" x2="79.3" y2="166.5" stroke="#222" stroke-width="1.1"/>
<text x="81.3" y="183.0" font-size="17" font-weight="normal" text-anchor="middle">11</text>
<line x1="103.0" y1="161.0" x2="103.0" y2="166.5" stroke="#222" stroke-width="1.1"/>
<text x="105.0" y="183.0" font-size="17" font-weight="normal" text-anchor="middle">12</text>
<line x1="126.8" y1="161.0" x2="126.8" y2="166.5" stroke="#222" stroke-width="1.1"/>
<text x="128.8" y="183.0" font-size="17" font-weight="normal" text-anchor="middle">1</text>
<line x1="150.6" y1="161.0" x2="150.6" y2="166.5" stroke="#222" stroke-width="1.1"/>
<text x="152.6" y="183.0" font-size="17" font-weight="normal" text-anchor="middle">2</text>
<line x1="174.3" y1="161.0" x2="174.3" y2="166.5" stroke="#222" stroke-width="1.1"/>
<text x="176.3" y="183.0" font-size="17" font-weight="normal" text-anchor="middle">3</text>
<line x1="198.1" y1="161.0" x2="198.1" y2="166.5" stroke="#222" stroke-width="1.1"/>
<text x="200.1" y="183.0" font-size="17" font-weight="normal" text-anchor="middle">4</text>
<line x1="221.9" y1="161.0" x2="221.9" y2="166.5" stroke="#222" stroke-width="1.1"/>
<text x="223.9" y="183.0" font-size="17" font-weight="normal" text-anchor="middle">5</text>
<line x1="245.7" y1="161.0" x2="245.7" y2="166.5" stroke="#222" stroke-width="1.1"/>
<text x="247.7" y="183.0" font-size="17" font-weight="normal" text-anchor="middle">6</text>
<line x1="269.4" y1="161.0" x2="269.4" y2="166.5" stroke="#222" stroke-width="1.1"/>
<text x="271.4" y="183.0" font-size="17" font-weight="normal" text-anchor="middle">7</text>
<line x1="293.2" y1="161.0" x2="293.2" y2="166.5" stroke="#222" stroke-width="1.1"/>
<text x="295.2" y="183.0" font-size="17" font-weight="normal" text-anchor="middle">8</text>
<line x1="317.0" y1="161.0" x2="317.0" y2="166.5" stroke="#222" stroke-width="1.1"/>
<text x="319.0" y="183.0" font-size="17" font-weight="normal" text-anchor="middle">9</text>
<line x1="340.7" y1="161.0" x2="340.7" y2="166.5" stroke="#222" stroke-width="1.1"/>
<text x="342.7" y="183.0" font-size="17" font-weight="normal" text-anchor="middle">10</text>
<line x1="364.5" y1="161.0" x2="364.5" y2="166.5" stroke="#222" stroke-width="1.1"/>
<text x="366.5" y="183.0" font-size="17" font-weight="normal" text-anchor="middle">11</text>
<line x1="388.3" y1="161.0" x2="388.3" y2="166.5" stroke="#222" stroke-width="1.1"/>
<text x="390.3" y="183.0" font-size="17" font-weight="normal" text-anchor="middle">12</text>
<line x1="412.1" y1="161.0" x2="412.1" y2="166.5" stroke="#222" stroke-width="1.1"/>
<text x="414.1" y="183.0" font-size="17" font-weight="normal" text-anchor="middle">1</text>
<line x1="435.8" y1="161.0" x2="435.8" y2="166.5" stroke="#222" stroke-width="1.1"/>
<text x="437.8" y="183.0" font-size="17" font-weight="normal" text-anchor="middle">2</text>
<line x1="459.6" y1="161.0" x2="459.6" y2="166.5" stroke="#222" stroke-width="1.1"/>
<text x="461.6" y="183.0" font-size="17" font-weight="normal" text-anchor="middle">3</text>
<line x1="483.4" y1="161.0" x2="483.4" y2="166.5" stroke="#222" stroke-width="1.1"/>
<text x="485.4" y="183.0" font-size="17" font-weight="normal" text-anchor="middle">4</text>
<line x1="507.1" y1="161.0" x2="507.1" y2="166.5" stroke="#222" stroke-width="1.1"/>
<text x="509.1" y="183.0" font-size="17" font-weight="normal" text-anchor="middle">5</text>
<line x1="530.9" y1="161.0" x2="530.9" y2="166.5" stroke="#222" stroke-width="1.1"/>
<text x="532.9" y="183.0" font-size="17" font-weight="normal" text-anchor="middle">6</text>
<line x1="554.7" y1="161.0" x2="554.7" y2="166.5" stroke="#222" stroke-width="1.1"/>
<text x="556.7" y="183.0" font-size="17" font-weight="normal" text-anchor="middle">7</text>
<line x1="578.4" y1="161.0" x2="578.4" y2="166.5" stroke="#222" stroke-width="1.1"/>
<text x="580.4" y="183.0" font-size="17" font-weight="normal" text-anchor="middle">8</text>
<line x1="602.2" y1="161.0" x2="602.2" y2="166.5" stroke="#222" stroke-width="1.1"/>
<text x="604.2" y="183.0" font-size="17" font-weight="normal" text-anchor="middle">9</text>
<line x1="618.5" y1="161.0" x2="618.5" y2="166.5" stroke="#222" stroke-width="1.1"/>
<text x="623.5" y="183.0" font-size="17" font-weight="normal" text-anchor="middle">10</text>
<text x="50.5" y="25.1" font-size="17" font-weight="normal" text-anchor="end">0.0</text>
<line x1="55.5" y1="66.7" x2="60.5" y2="66.7" stroke="#222" stroke-width="1.1"/>
<text x="50.5" y="72.3" font-size="17" font-weight="normal" text-anchor="end">-0.2</text>
<line x1="55.5" y1="113.8" x2="60.5" y2="113.8" stroke="#222" stroke-width="1.1"/>
<text x="50.5" y="119.4" font-size="17" font-weight="normal" text-anchor="end">-0.4</text>
<text x="50.5" y="166.6" font-size="17" font-weight="normal" text-anchor="end">-0.6</text>
<rect x="55.5" y="19.5" width="563.0" height="141.5" fill="none" stroke="#222" stroke-width="1.4"/>
<line x1="340.7" y1="19.5" x2="340.7" y2="161.0" stroke="#222" stroke-width="1.3" stroke-dasharray="6.5,5.1" stroke-dashoffset="1"/>
<line x1="691.3" y1="165.0" x2="691.3" y2="170.5" stroke="#222" stroke-width="1.1"/>
<text x="693.3" y="187.0" font-size="17" font-weight="normal" text-anchor="middle">10</text>
<line x1="715.1" y1="165.0" x2="715.1" y2="170.5" stroke="#222" stroke-width="1.1"/>
<text x="717.1" y="187.0" font-size="17" font-weight="normal" text-anchor="middle">11</text>
<line x1="739.0" y1="165.0" x2="739.0" y2="170.5" stroke="#222" stroke-width="1.1"/>
<text x="741.0" y="187.0" font-size="17" font-weight="normal" text-anchor="middle">12</text>
<line x1="762.8" y1="165.0" x2="762.8" y2="170.5" stroke="#222" stroke-width="1.1"/>
<text x="764.8" y="187.0" font-size="17" font-weight="normal" text-anchor="middle">1</text>
<line x1="786.6" y1="165.0" x2="786.6" y2="170.5" stroke="#222" stroke-width="1.1"/>
<text x="788.6" y="187.0" font-size="17" font-weight="normal" text-anchor="middle">2</text>
<line x1="810.4" y1="165.0" x2="810.4" y2="170.5" stroke="#222" stroke-width="1.1"/>
<text x="812.4" y="187.0" font-size="17" font-weight="normal" text-anchor="middle">3</text>
<line x1="834.3" y1="165.0" x2="834.3" y2="170.5" stroke="#222" stroke-width="1.1"/>
<text x="836.3" y="187.0" font-size="17" font-weight="normal" text-anchor="middle">4</text>
<line x1="858.1" y1="165.0" x2="858.1" y2="170.5" stroke="#222" stroke-width="1.1"/>
<text x="860.1" y="187.0" font-size="17" font-weight="normal" text-anchor="middle">5</text>
<line x1="881.9" y1="165.0" x2="881.9" y2="170.5" stroke="#222" stroke-width="1.1"/>
<text x="883.9" y="187.0" font-size="17" font-weight="normal" text-anchor="middle">6</text>
<line x1="905.8" y1="165.0" x2="905.8" y2="170.5" stroke="#222" stroke-width="1.1"/>
<text x="907.8" y="187.0" font-size="17" font-weight="normal" text-anchor="middle">7</text>
<line x1="929.6" y1="165.0" x2="929.6" y2="170.5" stroke="#222" stroke-width="1.1"/>
<text x="931.6" y="187.0" font-size="17" font-weight="normal" text-anchor="middle">8</text>
<line x1="953.4" y1="165.0" x2="953.4" y2="170.5" stroke="#222" stroke-width="1.1"/>
<text x="955.4" y="187.0" font-size="17" font-weight="normal" text-anchor="middle">9</text>
<line x1="977.3" y1="165.0" x2="977.3" y2="170.5" stroke="#222" stroke-width="1.1"/>
<text x="979.3" y="187.0" font-size="17" font-weight="normal" text-anchor="middle">10</text>
<line x1="1001.1" y1="165.0" x2="1001.1" y2="170.5" stroke="#222" stroke-width="1.1"/>
<text x="1003.1" y="187.0" font-size="17" font-weight="normal" text-anchor="middle">11</text>
<line x1="1024.9" y1="165.0" x2="1024.9" y2="170.5" stroke="#222" stroke-width="1.1"/>
<text x="1026.9" y="187.0" font-size="17" font-weight="normal" text-anchor="middle">12</text>
<line x1="1048.8" y1="165.0" x2="1048.8" y2="170.5" stroke="#222" stroke-width="1.1"/>
<text x="1050.8" y="187.0" font-size="17" font-weight="normal" text-anchor="middle">1</text>
<line x1="1072.6" y1="165.0" x2="1072.6" y2="170.5" stroke="#222" stroke-width="1.1"/>
<text x="1074.6" y="187.0" font-size="17" font-weight="normal" text-anchor="middle">2</text>
<line x1="1096.4" y1="165.0" x2="1096.4" y2="170.5" stroke="#222" stroke-width="1.1"/>
<text x="1098.4" y="187.0" font-size="17" font-weight="normal" text-anchor="middle">3</text>
<line x1="1120.2" y1="165.0" x2="1120.2" y2="170.5" stroke="#222" stroke-width="1.1"/>
<text x="1122.2" y="187.0" font-size="17" font-weight="normal" text-anchor="middle">4</text>
<line x1="1144.1" y1="165.0" x2="1144.1" y2="170.5" stroke="#222" stroke-width="1.1"/>
<text x="1146.1" y="187.0" font-size="17" font-weight="normal" text-anchor="middle">5</text>
<line x1="1167.9" y1="165.0" x2="1167.9" y2="170.5" stroke="#222" stroke-width="1.1"/>
<text x="1169.9" y="187.0" font-size="17" font-weight="normal" text-anchor="middle">6</text>
<line x1="1191.7" y1="165.0" x2="1191.7" y2="170.5" stroke="#222" stroke-width="1.1"/>
<text x="1193.7" y="187.0" font-size="17" font-weight="normal" text-anchor="middle">7</text>
<line x1="1215.6" y1="165.0" x2="1215.6" y2="170.5" stroke="#222" stroke-width="1.1"/>
<text x="1217.6" y="187.0" font-size="17" font-weight="normal" text-anchor="middle">8</text>
<line x1="1239.4" y1="165.0" x2="1239.4" y2="170.5" stroke="#222" stroke-width="1.1"/>
<text x="1241.4" y="187.0" font-size="17" font-weight="normal" text-anchor="middle">9</text>
<line x1="1256.0" y1="165.0" x2="1256.0" y2="170.5" stroke="#222" stroke-width="1.1"/>
<text x="1259.8" y="187.0" font-size="17" font-weight="normal" text-anchor="middle">10</text>
<text x="687.2" y="28.5" font-size="17" font-weight="normal" text-anchor="end">0.0</text>
<line x1="691.3" y1="70.0" x2="696.3" y2="70.0" stroke="#222" stroke-width="1.1"/>
<text x="687.2" y="76.0" font-size="17" font-weight="normal" text-anchor="end">-0.2</text>
<line x1="691.3" y1="117.5" x2="696.3" y2="117.5" stroke="#222" stroke-width="1.1"/>
<text x="687.2" y="123.5" font-size="17" font-weight="normal" text-anchor="end">-0.4</text>
<text x="687.2" y="171.0" font-size="17" font-weight="normal" text-anchor="end">-0.6</text>
<rect x="691.3" y="22.5" width="564.7" height="142.5" fill="none" stroke="#222" stroke-width="1.4"/>
<line x1="977.3" y1="22.5" x2="977.3" y2="165.0" stroke="#222" stroke-width="1.3" stroke-dasharray="6.5,5.1" stroke-dashoffset="1"/>
<line x1="54.3" y1="377.0" x2="54.3" y2="382.5" stroke="#222" stroke-width="1.1"/>
<text x="56.3" y="399.0" font-size="17" font-weight="normal" text-anchor="middle">10</text>
<line x1="78.0" y1="377.0" x2="78.0" y2="382.5" stroke="#222" stroke-width="1.1"/>
<text x="80.0" y="399.0" font-size="17" font-weight="normal" text-anchor="middle">11</text>
<line x1="101.8" y1="377.0" x2="101.8" y2="382.5" stroke="#222" stroke-width="1.1"/>
<text x="103.8" y="399.0" font-size="17" font-weight="normal" text-anchor="middle">12</text>
<line x1="125.5" y1="377.0" x2="125.5" y2="382.5" stroke="#222" stroke-width="1.1"/>
<text x="127.5" y="399.0" font-size="17" font-weight="normal" text-anchor="middle">1</text>
<line x1="149.3" y1="377.0" x2="149.3" y2="382.5" stroke="#222" stroke-width="1.1"/>
<text x="151.3" y="399.0" font-size="17" font-weight="normal" text-anchor="middle">2</text>
<line x1="173.1" y1="377.0" x2="173.1" y2="382.5" stroke="#222" stroke-width="1.1"/>
<text x="175.1" y="399.0" font-size="17" font-weight="normal" text-anchor="middle">3</text>
<line x1="196.8" y1="377.0" x2="196.8" y2="382.5" stroke="#222" stroke-width="1.1"/>
<text x="198.8" y="399.0" font-size="17" font-weight="normal" text-anchor="middle">4</text>
<line x1="220.6" y1="377.0" x2="220.6" y2="382.5" stroke="#222" stroke-width="1.1"/>
<text x="222.6" y="399.0" font-size="17" font-weight="normal" text-anchor="middle">5</text>
<line x1="244.3" y1="377.0" x2="244.3" y2="382.5" stroke="#222" stroke-width="1.1"/>
<text x="246.3" y="399.0" font-size="17" font-weight="normal" text-anchor="middle">6</text>
<line x1="268.1" y1="377.0" x2="268.1" y2="382.5" stroke="#222" stroke-width="1.1"/>
<text x="270.1" y="399.0" font-size="17" font-weight="normal" text-anchor="middle">7</text>
<line x1="291.8" y1="377.0" x2="291.8" y2="382.5" stroke="#222" stroke-width="1.1"/>
<text x="293.8" y="399.0" font-size="17" font-weight="normal" text-anchor="middle">8</text>
<line x1="315.6" y1="377.0" x2="315.6" y2="382.5" stroke="#222" stroke-width="1.1"/>
<text x="317.6" y="399.0" font-size="17" font-weight="normal" text-anchor="middle">9</text>
<line x1="339.3" y1="377.0" x2="339.3" y2="382.5" stroke="#222" stroke-width="1.1"/>
<text x="341.3" y="399.0" font-size="17" font-weight="normal" text-anchor="middle">10</text>
<line x1="363.1" y1="377.0" x2="363.1" y2="382.5" stroke="#222" stroke-width="1.1"/>
<text x="365.1" y="399.0" font-size="17" font-weight="normal" text-anchor="middle">11</text>
<line x1="386.8" y1="377.0" x2="386.8" y2="382.5" stroke="#222" stroke-width="1.1"/>
<text x="388.8" y="399.0" font-size="17" font-weight="normal" text-anchor="middle">12</text>
<line x1="410.6" y1="377.0" x2="410.6" y2="382.5" stroke="#222" stroke-width="1.1"/>
<text x="412.6" y="399.0" font-size="17" font-weight="normal" text-anchor="middle">1</text>
<line x1="434.3" y1="377.0" x2="434.3" y2="382.5" stroke="#222" stroke-width="1.1"/>
<text x="436.3" y="399.0" font-size="17" font-weight="normal" text-anchor="middle">2</text>
<line x1="458.1" y1="377.0" x2="458.1" y2="382.5" stroke="#222" stroke-width="1.1"/>
<text x="460.1" y="399.0" font-size="17" font-weight="normal" text-anchor="middle">3</text>
<line x1="481.8" y1="377.0" x2="481.8" y2="382.5" stroke="#222" stroke-width="1.1"/>
<text x="483.8" y="399.0" font-size="17" font-weight="normal" text-anchor="middle">4</text>
<line x1="505.6" y1="377.0" x2="505.6" y2="382.5" stroke="#222" stroke-width="1.1"/>
<text x="507.6" y="399.0" font-size="17" font-weight="normal" text-anchor="middle">5</text>
<line x1="529.3" y1="377.0" x2="529.3" y2="382.5" stroke="#222" stroke-width="1.1"/>
<text x="531.3" y="399.0" font-size="17" font-weight="normal" text-anchor="middle">6</text>
<line x1="553.0" y1="377.0" x2="553.0" y2="382.5" stroke="#222" stroke-width="1.1"/>
<text x="555.0" y="399.0" font-size="17" font-weight="normal" text-anchor="middle">7</text>
<line x1="576.8" y1="377.0" x2="576.8" y2="382.5" stroke="#222" stroke-width="1.1"/>
<text x="578.8" y="399.0" font-size="17" font-weight="normal" text-anchor="middle">8</text>
<line x1="600.5" y1="377.0" x2="600.5" y2="382.5" stroke="#222" stroke-width="1.1"/>
<text x="602.5" y="399.0" font-size="17" font-weight="normal" text-anchor="middle">9</text>
<line x1="623.0" y1="377.0" x2="623.0" y2="382.5" stroke="#222" stroke-width="1.1"/>
<text x="624.3" y="399.0" font-size="17" font-weight="normal" text-anchor="middle">10</text>
<text x="49.3" y="238.6" font-size="17" font-weight="normal" text-anchor="end">0.0</text>
<line x1="54.3" y1="281.3" x2="59.3" y2="281.3" stroke="#222" stroke-width="1.1"/>
<text x="49.3" y="286.4" font-size="17" font-weight="normal" text-anchor="end">-0.2</text>
<line x1="54.3" y1="329.2" x2="59.3" y2="329.2" stroke="#222" stroke-width="1.1"/>
<text x="49.3" y="334.3" font-size="17" font-weight="normal" text-anchor="end">-0.4</text>
<text x="49.3" y="382.1" font-size="17" font-weight="normal" text-anchor="end">-0.6</text>
<rect x="54.3" y="233.5" width="568.7" height="143.5" fill="none" stroke="#222" stroke-width="1.4"/>
<line x1="339.3" y1="233.5" x2="339.3" y2="377.0" stroke="#222" stroke-width="1.3" stroke-dasharray="6.5,5.1" stroke-dashoffset="1"/>
<line x1="690.0" y1="379.3" x2="690.0" y2="384.8" stroke="#222" stroke-width="1.1"/>
<text x="692.0" y="401.3" font-size="17" font-weight="normal" text-anchor="middle">10</text>
<line x1="713.7" y1="379.3" x2="713.7" y2="384.8" stroke="#222" stroke-width="1.1"/>
<text x="715.7" y="401.3" font-size="17" font-weight="normal" text-anchor="middle">11</text>
<line x1="737.5" y1="379.3" x2="737.5" y2="384.8" stroke="#222" stroke-width="1.1"/>
<text x="739.5" y="401.3" font-size="17" font-weight="normal" text-anchor="middle">12</text>
<line x1="761.2" y1="379.3" x2="761.2" y2="384.8" stroke="#222" stroke-width="1.1"/>
<text x="763.2" y="401.3" font-size="17" font-weight="normal" text-anchor="middle">1</text>
<line x1="784.9" y1="379.3" x2="784.9" y2="384.8" stroke="#222" stroke-width="1.1"/>
<text x="786.9" y="401.3" font-size="17" font-weight="normal" text-anchor="middle">2</text>
<line x1="808.6" y1="379.3" x2="808.6" y2="384.8" stroke="#222" stroke-width="1.1"/>
<text x="810.6" y="401.3" font-size="17" font-weight="normal" text-anchor="middle">3</text>
<line x1="832.4" y1="379.3" x2="832.4" y2="384.8" stroke="#222" stroke-width="1.1"/>
<text x="834.4" y="401.3" font-size="17" font-weight="normal" text-anchor="middle">4</text>
<line x1="856.1" y1="379.3" x2="856.1" y2="384.8" stroke="#222" stroke-width="1.1"/>
<text x="858.1" y="401.3" font-size="17" font-weight="normal" text-anchor="middle">5</text>
<line x1="879.8" y1="379.3" x2="879.8" y2="384.8" stroke="#222" stroke-width="1.1"/>
<text x="881.8" y="401.3" font-size="17" font-weight="normal" text-anchor="middle">6</text>
<line x1="903.6" y1="379.3" x2="903.6" y2="384.8" stroke="#222" stroke-width="1.1"/>
<text x="905.6" y="401.3" font-size="17" font-weight="normal" text-anchor="middle">7</text>
<line x1="927.3" y1="379.3" x2="927.3" y2="384.8" stroke="#222" stroke-width="1.1"/>
<text x="929.3" y="401.3" font-size="17" font-weight="normal" text-anchor="middle">8</text>
<line x1="951.0" y1="379.3" x2="951.0" y2="384.8" stroke="#222" stroke-width="1.1"/>
<text x="953.0" y="401.3" font-size="17" font-weight="normal" text-anchor="middle">9</text>
<line x1="974.8" y1="379.3" x2="974.8" y2="384.8" stroke="#222" stroke-width="1.1"/>
<text x="976.8" y="401.3" font-size="17" font-weight="normal" text-anchor="middle">10</text>
<line x1="998.5" y1="379.3" x2="998.5" y2="384.8" stroke="#222" stroke-width="1.1"/>
<text x="1000.5" y="401.3" font-size="17" font-weight="normal" text-anchor="middle">11</text>
<line x1="1022.2" y1="379.3" x2="1022.2" y2="384.8" stroke="#222" stroke-width="1.1"/>
<text x="1024.2" y="401.3" font-size="17" font-weight="normal" text-anchor="middle">12</text>
<line x1="1046.0" y1="379.3" x2="1046.0" y2="384.8" stroke="#222" stroke-width="1.1"/>
<text x="1048.0" y="401.3" font-size="17" font-weight="normal" text-anchor="middle">1</text>
<line x1="1069.7" y1="379.3" x2="1069.7" y2="384.8" stroke="#222" stroke-width="1.1"/>
<text x="1071.7" y="401.3" font-size="17" font-weight="normal" text-anchor="middle">2</text>
<line x1="1093.4" y1="379.3" x2="1093.4" y2="384.8" stroke="#222" stroke-width="1.1"/>
<text x="1095.4" y="401.3" font-size="17" font-weight="normal" text-anchor="middle">3</text>
<line x1="1117.1" y1="379.3" x2="1117.1" y2="384.8" stroke="#222" stroke-width="1.1"/>
<text x="1119.1" y="401.3" font-size="17" font-weight="normal" text-anchor="middle">4</text>
<line x1="1140.9" y1="379.3" x2="1140.9" y2="384.8" stroke="#222" stroke-width="1.1"/>
<text x="1142.9" y="401.3" font-size="17" font-weight="normal" text-anchor="middle">5</text>
<line x1="1164.6" y1="379.3" x2="1164.6" y2="384.8" stroke="#222" stroke-width="1.1"/>
<text x="1166.6" y="401.3" font-size="17" font-weight="normal" text-anchor="middle">6</text>
<line x1="1188.3" y1="379.3" x2="1188.3" y2="384.8" stroke="#222" stroke-width="1.1"/>
<text x="1190.3" y="401.3" font-size="17" font-weight="normal" text-anchor="middle">7</text>
<line x1="1212.1" y1="379.3" x2="1212.1" y2="384.8" stroke="#222" stroke-width="1.1"/>
<text x="1214.1" y="401.3" font-size="17" font-weight="normal" text-anchor="middle">8</text>
<line x1="1235.8" y1="379.3" x2="1235.8" y2="384.8" stroke="#222" stroke-width="1.1"/>
<text x="1237.8" y="401.3" font-size="17" font-weight="normal" text-anchor="middle">9</text>
<line x1="1259.0" y1="379.3" x2="1259.0" y2="384.8" stroke="#222" stroke-width="1.1"/>
<text x="1260.0" y="401.3" font-size="17" font-weight="normal" text-anchor="middle">10</text>
<text x="685.1" y="241.7" font-size="17" font-weight="normal" text-anchor="end">0.0</text>
<line x1="690.0" y1="283.9" x2="695.0" y2="283.9" stroke="#222" stroke-width="1.1"/>
<text x="685.1" y="289.4" font-size="17" font-weight="normal" text-anchor="end">-0.2</text>
<line x1="690.0" y1="331.6" x2="695.0" y2="331.6" stroke="#222" stroke-width="1.1"/>
<text x="685.1" y="337.1" font-size="17" font-weight="normal" text-anchor="end">-0.4</text>
<text x="685.1" y="384.8" font-size="17" font-weight="normal" text-anchor="end">-0.6</text>
<rect x="690.0" y="236.2" width="569.0" height="143.1" fill="none" stroke="#222" stroke-width="1.4"/>
<line x1="974.8" y1="236.2" x2="974.8" y2="379.3" stroke="#222" stroke-width="1.3" stroke-dasharray="6.5,5.1" stroke-dashoffset="1"/>
<line x1="55.5" y1="131.2" x2="618.5" y2="131.2" stroke="#5a4846" stroke-width="0.7"/>
<polygon points="56.5,131.2 63.5,129.0 63.5,133.39999999999998" fill="#111"/>
<polygon points="340.2,131.2 333.2,129.0 333.2,133.39999999999998" fill="#111"/>
<polygon points="341.2,131.2 348.2,129.0 348.2,133.39999999999998" fill="#111"/>
<polygon points="617.5,131.2 610.5,129.0 610.5,133.39999999999998" fill="#111"/>
<text x="170.6" y="127.5" font-size="17.1" font-weight="bold" text-anchor="start">First year</text>
<text x="458.0" y="126.5" font-size="17.2" font-weight="bold" text-anchor="start">Second year</text>
<line x1="691.3" y1="138.2" x2="1256.0" y2="138.2" stroke="#5a4846" stroke-width="0.7"/>
<polygon points="692.3,138.2 699.3,136.0 699.3,140.39999999999998" fill="#111"/>
<polygon points="976.8,138.2 969.8,136.0 969.8,140.39999999999998" fill="#111"/>
<polygon points="977.8,138.2 984.8,136.0 984.8,140.39999999999998" fill="#111"/>
<polygon points="1255.0,138.2 1248.0,136.0 1248.0,140.39999999999998" fill="#111"/>
<text x="811.8" y="133.5" font-size="17.1" font-weight="bold" text-anchor="start">First year</text>
<text x="1096.2" y="134.5" font-size="17.5" font-weight="bold" text-anchor="start">Second year</text>
<line x1="54.3" y1="347.6" x2="623.0" y2="347.6" stroke="#5a4846" stroke-width="0.7"/>
<polygon points="55.3,347.6 62.3,345.40000000000003 62.3,349.8" fill="#111"/>
<polygon points="338.8,347.6 331.8,345.40000000000003 331.8,349.8" fill="#111"/>
<polygon points="339.8,347.6 346.8,345.40000000000003 346.8,349.8" fill="#111"/>
<polygon points="622.0,347.6 615.0,345.40000000000003 615.0,349.8" fill="#111"/>
<text x="173.0" y="344.4" font-size="16.3" font-weight="bold" text-anchor="start">First year</text>
<text x="457.3" y="344.5" font-size="16.8" font-weight="bold" text-anchor="start">Second year</text>
<line x1="690.0" y1="349.8" x2="1259.0" y2="349.8" stroke="#5a4846" stroke-width="0.7"/>
<polygon points="691.0,349.8 698.0,347.6 698.0,352.0" fill="#111"/>
<polygon points="974.3,349.8 967.3,347.6 967.3,352.0" fill="#111"/>
<polygon points="975.3,349.8 982.3,347.6 982.3,352.0" fill="#111"/>
<polygon points="1258.0,349.8 1251.0,347.6 1251.0,352.0" fill="#111"/>
<text x="808.2" y="346.8" font-size="16.4" font-weight="bold" text-anchor="start">First year</text>
<text x="1093.3" y="346.0" font-size="16.7" font-weight="bold" text-anchor="start">Second year</text>
<rect x="70.5" y="101.80" width="17" height="5.21" fill="#f06a66"/>
<rect x="70.5" y="106.71" width="17" height="5.21" fill="#f57b75"/>
<rect x="70.5" y="111.62" width="17" height="5.21" fill="#f8978a"/>
<rect x="70.5" y="116.52" width="17" height="5.21" fill="#fbb09b"/>
<rect x="70.5" y="121.43" width="17" height="5.21" fill="#fcc6ac"/>
<rect x="70.5" y="126.34" width="17" height="5.21" fill="#fddcb8"/>
<rect x="70.5" y="131.25" width="17" height="5.21" fill="#d8d3c0"/>
<rect x="70.5" y="136.16" width="17" height="5.21" fill="#c0c5c2"/>
<rect x="70.5" y="141.07" width="17" height="5.21" fill="#a8b9c6"/>
<rect x="70.5" y="145.97" width="17" height="5.21" fill="#8ea8c3"/>
<rect x="70.5" y="150.88" width="17" height="5.21" fill="#6289bb"/>
<rect x="70.5" y="155.79" width="17" height="5.21" fill="#4a7bb4"/>
<rect x="70.5" y="101.8" width="17" height="58.9" fill="none" stroke="#222" stroke-width="1"/>
<line x1="87.5" y1="107.0" x2="92.5" y2="107.0" stroke="#222" stroke-width="1"/>
<text transform="translate(98.3,112.16) scale(1,1.14)" font-size="13.3">20.0</text>
<line x1="87.5" y1="116.7" x2="92.5" y2="116.7" stroke="#222" stroke-width="1"/>
<text transform="translate(98.3,121.86) scale(1,1.14)" font-size="13.3">19.0</text>
<line x1="87.5" y1="126.4" x2="92.5" y2="126.4" stroke="#222" stroke-width="1"/>
<text transform="translate(98.3,131.56) scale(1,1.14)" font-size="13.3">18.0</text>
<line x1="87.5" y1="136.1" x2="92.5" y2="136.1" stroke="#222" stroke-width="1"/>
<text transform="translate(98.3,141.26) scale(1,1.14)" font-size="13.3">17.0</text>
<line x1="87.5" y1="145.8" x2="92.5" y2="145.8" stroke="#222" stroke-width="1"/>
<text transform="translate(98.3,150.96) scale(1,1.14)" font-size="13.3">16.0</text>
<line x1="87.5" y1="155.5" x2="92.5" y2="155.5" stroke="#222" stroke-width="1"/>
<text transform="translate(98.3,160.66) scale(1,1.14)" font-size="13.3">15.0</text>
<text x="62.4" y="98.5" font-size="12.6" font-weight="bold" text-anchor="start">c/(mol/m<tspan font-size="8.6" dy="-5.0">3</tspan><tspan dy="5.0">)</tspan></text>
<rect x="707.2" y="108.80" width="17" height="4.93" fill="#f06a66"/>
<rect x="707.2" y="113.43" width="17" height="4.93" fill="#f57b75"/>
<rect x="707.2" y="118.07" width="17" height="4.93" fill="#f8978a"/>
<rect x="707.2" y="122.70" width="17" height="4.93" fill="#fbb09b"/>
<rect x="707.2" y="127.33" width="17" height="4.93" fill="#fcc6ac"/>
<rect x="707.2" y="131.97" width="17" height="4.93" fill="#fddcb8"/>
<rect x="707.2" y="136.60" width="17" height="4.93" fill="#d8d3c0"/>
<rect x="707.2" y="141.23" width="17" height="4.93" fill="#c0c5c2"/>
<rect x="707.2" y="145.87" width="17" height="4.93" fill="#a8b9c6"/>
<rect x="707.2" y="150.50" width="17" height="4.93" fill="#8ea8c3"/>
<rect x="707.2" y="155.13" width="17" height="4.93" fill="#6289bb"/>
<rect x="707.2" y="159.77" width="17" height="4.93" fill="#4a7bb4"/>
<rect x="707.2" y="108.8" width="17" height="55.6" fill="none" stroke="#222" stroke-width="1"/>
<line x1="724.2" y1="113.9" x2="729.2" y2="113.9" stroke="#222" stroke-width="1"/>
<text transform="translate(735.3,118.94) scale(1,1.14)" font-size="13">20.0</text>
<line x1="724.2" y1="123.0" x2="729.2" y2="123.0" stroke="#222" stroke-width="1"/>
<text transform="translate(735.3,128.02) scale(1,1.14)" font-size="13">19.0</text>
<line x1="724.2" y1="132.1" x2="729.2" y2="132.1" stroke="#222" stroke-width="1"/>
<text transform="translate(735.3,137.10) scale(1,1.14)" font-size="13">18.0</text>
<line x1="724.2" y1="141.1" x2="729.2" y2="141.1" stroke="#222" stroke-width="1"/>
<text transform="translate(735.3,146.18) scale(1,1.14)" font-size="13">17.0</text>
<line x1="724.2" y1="150.2" x2="729.2" y2="150.2" stroke="#222" stroke-width="1"/>
<text transform="translate(735.3,155.26) scale(1,1.14)" font-size="13">16.0</text>
<line x1="724.2" y1="159.3" x2="729.2" y2="159.3" stroke="#222" stroke-width="1"/>
<text transform="translate(735.3,164.34) scale(1,1.14)" font-size="13">15.0</text>
<text x="701.1" y="104.3" font-size="12.6" font-weight="bold" text-anchor="start">c/(mol/m<tspan font-size="8.6" dy="-5.0">3</tspan><tspan dy="5.0">)</tspan></text>
<rect x="69.2" y="318.20" width="15.5" height="5.13" fill="#f06a66"/>
<rect x="69.2" y="323.03" width="15.5" height="5.13" fill="#f57b75"/>
<rect x="69.2" y="327.87" width="15.5" height="5.13" fill="#f8978a"/>
<rect x="69.2" y="332.70" width="15.5" height="5.13" fill="#fbb09b"/>
<rect x="69.2" y="337.53" width="15.5" height="5.13" fill="#fcc6ac"/>
<rect x="69.2" y="342.37" width="15.5" height="5.13" fill="#fddcb8"/>
<rect x="69.2" y="347.20" width="15.5" height="5.13" fill="#d8d3c0"/>
<rect x="69.2" y="352.03" width="15.5" height="5.13" fill="#c0c5c2"/>
<rect x="69.2" y="356.87" width="15.5" height="5.13" fill="#a8b9c6"/>
<rect x="69.2" y="361.70" width="15.5" height="5.13" fill="#8ea8c3"/>
<rect x="69.2" y="366.53" width="15.5" height="5.13" fill="#6289bb"/>
<rect x="69.2" y="371.37" width="15.5" height="5.13" fill="#4a7bb4"/>
<rect x="69.2" y="318.2" width="15.5" height="58.0" fill="none" stroke="#222" stroke-width="1"/>
<line x1="84.7" y1="323.3" x2="89.7" y2="323.3" stroke="#222" stroke-width="1"/>
<text transform="translate(93.2,327.58) scale(1,1.0)" font-size="12.6">20.0</text>
<line x1="84.7" y1="332.8" x2="89.7" y2="332.8" stroke="#222" stroke-width="1"/>
<text transform="translate(93.2,337.08) scale(1,1.0)" font-size="12.6">19.0</text>
<line x1="84.7" y1="342.3" x2="89.7" y2="342.3" stroke="#222" stroke-width="1"/>
<text transform="translate(93.2,346.58) scale(1,1.0)" font-size="12.6">18.0</text>
<line x1="84.7" y1="351.8" x2="89.7" y2="351.8" stroke="#222" stroke-width="1"/>
<text transform="translate(93.2,356.08) scale(1,1.0)" font-size="12.6">17.0</text>
<line x1="84.7" y1="361.3" x2="89.7" y2="361.3" stroke="#222" stroke-width="1"/>
<text transform="translate(93.2,365.58) scale(1,1.0)" font-size="12.6">16.0</text>
<line x1="84.7" y1="370.8" x2="89.7" y2="370.8" stroke="#222" stroke-width="1"/>
<text transform="translate(93.2,375.08) scale(1,1.0)" font-size="12.6">15.0</text>
<text x="59.7" y="312.2" font-size="12.6" font-weight="bold" text-anchor="start">c/(mol/m<tspan font-size="8.6" dy="-5.0">3</tspan><tspan dy="5.0">)</tspan></text>
<rect x="705.2" y="320.80" width="15.6" height="5.17" fill="#f06a66"/>
<rect x="705.2" y="325.67" width="15.6" height="5.17" fill="#f57b75"/>
<rect x="705.2" y="330.53" width="15.6" height="5.17" fill="#f8978a"/>
<rect x="705.2" y="335.40" width="15.6" height="5.17" fill="#fbb09b"/>
<rect x="705.2" y="340.27" width="15.6" height="5.17" fill="#fcc6ac"/>
<rect x="705.2" y="345.13" width="15.6" height="5.17" fill="#fddcb8"/>
<rect x="705.2" y="350.00" width="15.6" height="5.17" fill="#d8d3c0"/>
<rect x="705.2" y="354.87" width="15.6" height="5.17" fill="#c0c5c2"/>
<rect x="705.2" y="359.73" width="15.6" height="5.17" fill="#a8b9c6"/>
<rect x="705.2" y="364.60" width="15.6" height="5.17" fill="#8ea8c3"/>
<rect x="705.2" y="369.47" width="15.6" height="5.17" fill="#6289bb"/>
<rect x="705.2" y="374.33" width="15.6" height="5.17" fill="#4a7bb4"/>
<rect x="705.2" y="320.8" width="15.6" height="58.4" fill="none" stroke="#222" stroke-width="1"/>
<line x1="720.8000000000001" y1="325.9" x2="725.8000000000001" y2="325.9" stroke="#222" stroke-width="1"/>
<text transform="translate(729.6,330.08) scale(1,1.0)" font-size="12.3">20.0</text>
<line x1="720.8000000000001" y1="335.5" x2="725.8000000000001" y2="335.5" stroke="#222" stroke-width="1"/>
<text transform="translate(729.6,339.64) scale(1,1.0)" font-size="12.3">19.0</text>
<line x1="720.8000000000001" y1="345.0" x2="725.8000000000001" y2="345.0" stroke="#222" stroke-width="1"/>
<text transform="translate(729.6,349.20) scale(1,1.0)" font-size="12.3">18.0</text>
<line x1="720.8000000000001" y1="354.6" x2="725.8000000000001" y2="354.6" stroke="#222" stroke-width="1"/>
<text transform="translate(729.6,358.76) scale(1,1.0)" font-size="12.3">17.0</text>
<line x1="720.8000000000001" y1="364.1" x2="725.8000000000001" y2="364.1" stroke="#222" stroke-width="1"/>
<text transform="translate(729.6,368.32) scale(1,1.0)" font-size="12.3">16.0</text>
<line x1="720.8000000000001" y1="373.7" x2="725.8000000000001" y2="373.7" stroke="#222" stroke-width="1"/>
<text transform="translate(729.6,377.88) scale(1,1.0)" font-size="12.3">15.0</text>
<text x="694.7" y="315.4" font-size="12.6" font-weight="bold" text-anchor="start">c/(mol/m<tspan font-size="8.6" dy="-5.0">3</tspan><tspan dy="5.0">)</tspan></text>
<text x="75.8" y="13.5" font-size="17.2" font-weight="bold" text-anchor="start">Winter irrigation</text>
<line x1="72" y1="7" x2="65.0" y2="13.5" stroke="#222" stroke-width="0.8"/>
<polygon points="60.6,17.6 63.8,12.2 66.2,14.8" fill="#111"/>
<text x="361.5" y="14.3" font-size="17.2" font-weight="bold" text-anchor="start">Winter irrigation</text>
<line x1="357.5" y1="8.7" x2="350.5" y2="14.8" stroke="#222" stroke-width="0.8"/>
<polygon points="346.0,18.8 349.3,13.5 351.7,16.2" fill="#111"/>
<text x="821.6" y="13.4" font-size="17.5" font-weight="bold" text-anchor="start">Spring irrigation</text>
<line x1="819.6" y1="7.6" x2="811.5" y2="16.9" stroke="#222" stroke-width="0.8"/>
<polygon points="807.6,21.4 810.2,15.7 812.9,18.1" fill="#111"/>
<text x="1106.0" y="13.4" font-size="17.5" font-weight="bold" text-anchor="start">Spring irrigation</text>
<line x1="1103.3" y1="7.6" x2="1095.8" y2="16.8" stroke="#222" stroke-width="0.8"/>
<polygon points="1092.0,21.4 1094.4,15.6 1097.2,17.9" fill="#111"/>
<text x="75.4" y="224.6" font-size="16.8" font-weight="bold" text-anchor="start">Winter irrigation</text>
<line x1="72" y1="218.9" x2="63.0" y2="227.9" stroke="#222" stroke-width="0.8"/>
<polygon points="58.8,232.1 61.8,226.6 64.3,229.1" fill="#111"/>
<text x="366.7" y="224.8" font-size="16.8" font-weight="bold" text-anchor="start">Winter irrigation</text>
<line x1="363.4" y1="218.9" x2="354.4" y2="227.9" stroke="#222" stroke-width="0.8"/>
<polygon points="350.1,232.1 353.1,226.6 355.6,229.2" fill="#111"/>
<text x="812.9" y="228.4" font-size="16.8" font-weight="bold" text-anchor="start">Spring irrigation</text>
<line x1="810.3" y1="222.7" x2="801.9" y2="231.1" stroke="#222" stroke-width="0.8"/>
<polygon points="797.7,235.3 800.7,229.8 803.2,232.3" fill="#111"/>
<text x="1098.0" y="228.5" font-size="16.8" font-weight="bold" text-anchor="start">Spring irrigation</text>
<line x1="1095.9" y1="222.7" x2="1087.5" y2="231.1" stroke="#222" stroke-width="0.8"/>
<polygon points="1083.3,235.3 1086.3,229.8 1088.8,232.3" fill="#111"/>
<text x="592.3" y="36.8" font-size="18" font-weight="bold" text-anchor="start">(a)</text>
<text x="1230.2" y="40.3" font-size="18" font-weight="bold" text-anchor="start">(b)</text>
<text x="599.8" y="249.6" font-size="17.5" font-weight="bold" text-anchor="start">(c)</text>
<text x="1232.2" y="252.9" font-size="17.5" font-weight="bold" text-anchor="start">(d)</text>
<text x="349.8" y="203.5" font-size="16" font-weight="bold" text-anchor="middle">Time/month</text>
<text x="987.0" y="208.0" font-size="16" font-weight="bold" text-anchor="middle">Time/month</text>
<text x="342.8" y="416.8" font-size="15.5" font-weight="bold" text-anchor="middle">Time/month</text>
<text x="978.8" y="419.0" font-size="15.5" font-weight="bold" text-anchor="middle">Time/month</text>
<text transform="translate(12,88) rotate(-90)" font-size="16.8" font-weight="bold" text-anchor="middle">Depth/m</text>
<text transform="translate(648.3,93.4) rotate(-90)" font-size="16" font-weight="bold" text-anchor="middle">Depth/m</text>
<text transform="translate(12.5,302.2) rotate(-90)" font-size="15.5" font-weight="bold" text-anchor="middle">Depth/m</text>
<text transform="translate(648.5,306) rotate(-90)" font-size="15.5" font-weight="bold" text-anchor="middle">Depth/m</text>
</svg></body></html>
